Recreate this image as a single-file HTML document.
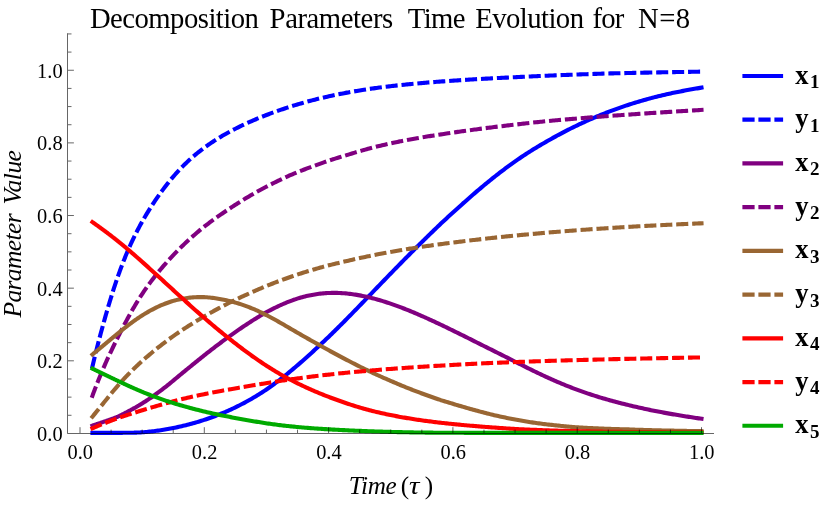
<!DOCTYPE html>
<html><head><meta charset="utf-8"><title>Decomposition Parameters</title>
<style>html,body{margin:0;padding:0;background:#fff;}svg{display:block;will-change:transform;transform:translateZ(0);}text{font-family:"Liberation Serif",serif;}</style></head><body>
<svg width="830" height="506" viewBox="0 0 830 506">
<rect width="830" height="506" fill="#fff"/>
<path d="M92.43,432.85 L92.85,432.85 L93.26,432.85 L93.68,432.86 L94.10,432.86 L94.52,432.86 L94.93,432.86 L95.35,432.86 L95.77,432.86 L96.18,432.86 L96.60,432.86 L97.02,432.86 L97.44,432.86 L97.85,432.86 L98.27,432.86 L98.69,432.86 L99.10,432.86 L99.52,432.86 L99.94,432.86 L100.36,432.86 L100.77,432.86 L101.19,432.86 L101.61,432.86 L102.02,432.86 L102.44,432.86 L102.86,432.86 L103.28,432.86 L103.69,432.86 L104.11,432.86 L104.53,432.86 L104.95,432.86 L105.36,432.86 L105.78,432.86 L106.20,432.86 L106.61,432.86 L107.03,432.86 L107.45,432.86 L107.87,432.86 L108.28,432.86 L108.70,432.86 L109.12,432.86 L109.53,432.85 L109.95,432.85 L110.37,432.85 L110.79,432.85 L111.20,432.85 L111.62,432.85 L112.04,432.85 L112.45,432.85 L112.87,432.85 L113.29,432.85 L113.71,432.85 L114.12,432.85 L114.54,432.85 L114.96,432.85 L115.37,432.85 L115.79,432.85 L116.21,432.85 L116.63,432.85 L117.04,432.84 L117.46,432.84 L117.88,432.84 L118.29,432.84 L118.71,432.84 L119.13,432.84 L119.55,432.84 L119.96,432.84 L120.38,432.84 L120.80,432.83 L121.21,432.83 L121.63,432.83 L122.05,432.83 L122.47,432.83 L122.88,432.82 L123.30,432.82 L123.72,432.82 L124.13,432.82 L124.55,432.81 L124.97,432.81 L125.39,432.81 L125.80,432.80 L126.22,432.80 L126.64,432.80 L127.05,432.79 L127.47,432.79 L127.89,432.79 L128.31,432.78 L128.72,432.78 L129.14,432.77 L129.56,432.76 L129.97,432.76 L130.39,432.75 L130.81,432.74 L131.23,432.74 L131.64,432.73 L132.06,432.72 L132.48,432.71 L132.90,432.70 L133.31,432.69 L133.73,432.68 L134.15,432.67 L134.56,432.66 L134.98,432.65 L135.40,432.63 L135.82,432.62 L136.23,432.61 L136.65,432.59 L137.07,432.57 L137.48,432.56 L137.90,432.54 L138.32,432.52 L138.74,432.50 L139.15,432.48 L139.57,432.46 L139.99,432.43 L140.40,432.41 L140.82,432.38 L141.24,432.36 L141.66,432.33 L142.07,432.30 L142.49,432.28 L143.89,432.17 L145.29,432.06 L146.69,431.94 L148.09,431.80 L149.50,431.66 L150.90,431.51 L152.30,431.35 L153.70,431.18 L155.10,431.00 L156.50,430.82 L157.90,430.63 L159.30,430.42 L160.70,430.22 L162.10,430.00 L163.51,429.78 L164.91,429.54 L166.31,429.30 L167.71,429.06 L169.11,428.80 L170.51,428.54 L171.91,428.27 L173.31,427.99 L174.71,427.71 L176.11,427.42 L177.52,427.12 L178.92,426.81 L180.32,426.50 L181.72,426.17 L183.12,425.84 L184.52,425.51 L185.92,425.16 L187.32,424.81 L188.72,424.44 L190.12,424.07 L191.53,423.69 L192.93,423.31 L194.33,422.91 L195.73,422.51 L197.13,422.10 L198.53,421.68 L199.93,421.25 L201.33,420.81 L202.73,420.37 L204.14,419.91 L205.54,419.45 L206.94,418.98 L208.34,418.50 L209.74,418.01 L211.14,417.51 L212.54,417.01 L213.94,416.49 L215.34,415.96 L216.74,415.43 L218.15,414.88 L219.55,414.33 L220.95,413.77 L222.35,413.19 L223.75,412.61 L225.15,412.01 L226.55,411.41 L227.95,410.79 L229.35,410.17 L230.75,409.53 L232.16,408.89 L233.56,408.23 L234.96,407.56 L236.36,406.88 L237.76,406.19 L239.16,405.49 L240.56,404.78 L241.96,404.05 L243.36,403.32 L244.77,402.57 L246.17,401.81 L247.57,401.04 L248.97,400.26 L250.37,399.47 L251.77,398.66 L253.17,397.84 L254.57,397.01 L255.97,396.17 L257.37,395.32 L258.78,394.45 L260.18,393.57 L261.58,392.68 L262.98,391.78 L264.38,390.86 L265.78,389.93 L267.18,388.99 L268.58,388.02 L269.98,387.04 L271.38,386.04 L272.79,385.03 L274.19,384.01 L275.59,382.97 L276.99,381.92 L278.39,380.86 L279.79,379.78 L281.19,378.70 L282.59,377.60 L283.99,376.49 L285.39,375.37 L286.80,374.24 L288.20,373.10 L289.60,371.94 L291.00,370.78 L292.40,369.61 L293.80,368.43 L295.20,367.25 L296.60,366.05 L298.00,364.85 L299.41,363.64 L300.81,362.42 L302.21,361.19 L303.61,359.96 L305.01,358.72 L306.41,357.47 L307.81,356.22 L309.21,354.96 L310.61,353.69 L312.01,352.42 L313.42,351.14 L314.82,349.86 L316.22,348.57 L317.62,347.27 L319.02,345.97 L320.42,344.66 L321.82,343.34 L323.22,342.02 L324.62,340.69 L326.02,339.35 L327.43,338.01 L328.83,336.66 L330.23,335.31 L331.63,333.95 L333.03,332.58 L334.43,331.21 L335.83,329.83 L337.23,328.44 L338.63,327.05 L340.03,325.66 L341.44,324.26 L342.84,322.85 L344.24,321.44 L345.64,320.03 L347.04,318.61 L348.44,317.18 L349.84,315.75 L351.24,314.32 L352.64,312.88 L354.05,311.44 L355.45,310.00 L356.85,308.55 L358.25,307.10 L359.65,305.64 L361.05,304.20 L362.45,302.75 L363.85,301.31 L365.25,299.86 L366.65,298.41 L368.06,296.96 L369.46,295.50 L370.86,294.05 L372.26,292.60 L373.66,291.14 L375.06,289.69 L376.46,288.24 L377.86,286.79 L379.26,285.34 L380.66,283.89 L382.07,282.44 L383.47,280.99 L384.87,279.54 L386.27,278.09 L387.67,276.65 L389.07,275.20 L390.47,273.76 L391.87,272.32 L393.27,270.88 L394.67,269.44 L396.08,268.00 L397.48,266.57 L398.88,265.14 L400.28,263.71 L401.68,262.28 L403.08,260.85 L404.48,259.43 L405.88,258.01 L407.28,256.59 L408.69,255.18 L410.09,253.77 L411.49,252.36 L412.89,250.96 L414.29,249.56 L415.69,248.16 L417.09,246.77 L418.49,245.38 L419.89,243.99 L421.29,242.61 L422.70,241.23 L424.10,239.85 L425.50,238.48 L426.90,237.11 L428.30,235.75 L429.70,234.38 L431.10,233.02 L432.50,231.67 L433.90,230.31 L435.30,228.96 L436.71,227.61 L438.11,226.27 L439.51,224.93 L440.91,223.59 L442.31,222.29 L443.71,220.99 L445.11,219.69 L446.51,218.40 L447.91,217.11 L449.32,215.83 L450.72,214.54 L452.12,213.26 L453.52,211.99 L454.92,210.71 L456.32,209.44 L457.72,208.18 L459.12,206.92 L460.52,205.66 L461.92,204.40 L463.33,203.15 L464.73,201.91 L466.13,200.67 L467.53,199.43 L468.93,198.20 L470.33,196.97 L471.73,195.75 L473.13,194.54 L474.53,193.33 L475.93,192.13 L477.34,190.93 L478.74,189.74 L480.14,188.56 L481.54,187.38 L482.94,186.22 L484.34,185.05 L485.74,183.90 L487.14,182.75 L488.54,181.61 L489.94,180.47 L491.35,179.34 L492.75,178.22 L494.15,177.11 L495.55,176.00 L496.95,174.90 L498.35,173.81 L499.75,172.73 L501.15,171.65 L502.55,170.58 L503.96,169.52 L505.36,168.47 L506.76,167.42 L508.16,166.39 L509.56,165.37 L510.96,164.35 L512.36,163.35 L513.76,162.35 L515.16,161.37 L516.56,160.39 L517.97,159.42 L519.37,158.46 L520.77,157.51 L522.17,156.57 L523.57,155.64 L524.97,154.72 L526.37,153.81 L527.77,152.90 L529.17,152.00 L530.57,151.12 L531.98,150.24 L533.38,149.36 L534.78,148.50 L536.18,147.64 L537.58,146.80 L538.98,145.96 L540.38,145.12 L541.78,144.30 L543.18,143.48 L544.58,142.67 L545.99,141.87 L547.39,141.06 L548.79,140.26 L550.19,139.46 L551.59,138.67 L552.99,137.89 L554.39,137.11 L555.79,136.34 L557.19,135.57 L558.60,134.82 L560.00,134.07 L561.40,133.32 L562.80,132.58 L564.20,131.85 L565.60,131.13 L567.00,130.41 L568.40,129.70 L569.80,128.99 L571.20,128.29 L572.61,127.60 L574.01,126.91 L575.41,126.23 L576.81,125.55 L578.21,124.88 L579.61,124.22 L581.01,123.57 L582.41,122.91 L583.81,122.27 L585.21,121.63 L586.62,121.00 L588.02,120.37 L589.42,119.75 L590.82,119.14 L592.22,118.53 L593.62,117.92 L595.02,117.33 L596.42,116.74 L597.82,116.15 L599.22,115.57 L600.63,115.00 L602.03,114.43 L603.43,113.87 L604.83,113.32 L606.23,112.77 L607.63,112.23 L609.03,111.69 L610.43,111.16 L611.83,110.63 L613.24,110.11 L614.64,109.60 L616.04,109.09 L617.44,108.58 L618.84,108.09 L620.24,107.60 L621.64,107.11 L623.04,106.63 L624.44,106.15 L625.84,105.68 L627.25,105.22 L628.65,104.76 L630.05,104.31 L631.45,103.86 L632.85,103.41 L634.25,102.98 L635.65,102.54 L637.05,102.12 L638.45,101.69 L639.85,101.28 L641.26,100.87 L642.66,100.46 L644.06,100.06 L645.46,99.66 L646.86,99.27 L648.26,98.88 L649.66,98.50 L651.06,98.13 L652.46,97.76 L653.87,97.39 L655.27,97.03 L656.67,96.67 L658.07,96.32 L659.47,95.98 L660.87,95.64 L662.27,95.30 L663.67,94.97 L665.07,94.64 L666.47,94.32 L667.88,94.01 L669.28,93.70 L670.68,93.39 L672.08,93.09 L673.48,92.79 L674.88,92.50 L676.28,92.22 L677.68,91.94 L679.08,91.66 L680.48,91.39 L681.89,91.12 L683.29,90.86 L684.69,90.59 L686.09,90.34 L687.49,90.08 L688.89,89.83 L690.29,89.58 L691.69,89.33 L693.09,89.09 L694.49,88.84 L695.90,88.60 L697.30,88.36 L698.70,88.12 L700.10,87.88 L701.50,87.64" fill="none" stroke="#0000ff" stroke-width="4.1" stroke-linejoin="round" stroke-linecap="square"/>
<path d="M92.43,366.56 L92.85,364.77 L93.26,363.01 L93.68,361.27 L94.10,359.54 L94.52,357.82 L94.93,356.12 L95.35,354.43 L95.77,352.75 L96.18,351.08 L96.60,349.42 L97.02,347.77 L97.44,346.13 L97.85,344.49 L98.27,342.87 L98.69,341.26 L99.10,339.65 L99.52,338.05 L99.94,336.47 L100.36,334.89 L100.77,333.32 L101.19,331.76 L101.61,330.21 L102.02,328.66 L102.44,327.13 L102.86,325.60 L103.28,324.08 L103.69,322.58 L104.11,321.08 L104.53,319.59 L104.95,318.10 L105.36,316.63 L105.78,315.16 L106.20,313.71 L106.61,312.26 L107.03,310.82 L107.45,309.39 L107.87,307.96 L108.28,306.55 L108.70,305.14 L109.12,303.75 L109.53,302.36 L109.95,300.98 L110.37,299.61 L110.79,298.25 L111.20,296.89 L111.62,295.55 L112.04,294.21 L112.45,292.89 L112.87,291.57 L113.29,290.27 L113.71,288.97 L114.12,287.68 L114.54,286.40 L114.96,285.13 L115.37,283.88 L115.79,282.63 L116.21,281.39 L116.63,280.16 L117.04,278.94 L117.46,277.73 L117.88,276.53 L118.29,275.34 L118.71,274.16 L119.13,272.99 L119.55,271.83 L119.96,270.68 L120.38,269.54 L120.80,268.41 L121.21,267.28 L121.63,266.17 L122.05,265.07 L122.47,263.98 L122.88,262.90 L123.30,261.82 L123.72,260.76 L124.13,259.70 L124.55,258.66 L124.97,257.62 L125.39,256.59 L125.80,255.57 L126.22,254.56 L126.64,253.56 L127.05,252.57 L127.47,251.58 L127.89,250.61 L128.31,249.64 L128.72,248.68 L129.14,247.73 L129.56,246.79 L129.97,245.85 L130.39,244.93 L130.81,244.01 L131.23,243.10 L131.64,242.19 L132.06,241.30 L132.48,240.41 L132.90,239.53 L133.31,238.65 L133.73,237.79 L134.15,236.93 L134.56,236.08 L134.98,235.23 L135.40,234.39 L135.82,233.56 L136.23,232.74 L136.65,231.92 L137.07,231.11 L137.48,230.30 L137.90,229.50 L138.32,228.71 L138.74,227.92 L139.15,227.14 L139.57,226.36 L139.99,225.59 L140.40,224.82 L140.82,224.06 L141.24,223.31 L141.66,222.56 L142.07,221.82 L142.49,221.08 L143.89,218.63 L145.29,216.23 L146.69,213.89 L148.09,211.59 L149.50,209.34 L150.90,207.13 L152.30,204.95 L153.70,202.82 L155.10,200.73 L156.50,198.67 L157.90,196.64 L159.30,194.65 L160.70,192.70 L162.10,190.77 L163.51,188.88 L164.91,187.03 L166.31,185.21 L167.71,183.42 L169.11,181.66 L170.51,179.94 L171.91,178.25 L173.31,176.60 L174.71,174.98 L176.11,173.40 L177.52,171.85 L178.92,170.33 L180.32,168.84 L181.72,167.39 L183.12,165.96 L184.52,164.57 L185.92,163.21 L187.32,161.87 L188.72,160.56 L190.12,159.28 L191.53,158.02 L192.93,156.80 L194.33,155.59 L195.73,154.41 L197.13,153.26 L198.53,152.13 L199.93,151.02 L201.33,149.93 L202.73,148.86 L204.14,147.82 L205.54,146.79 L206.94,145.78 L208.34,144.80 L209.74,143.83 L211.14,142.88 L212.54,141.94 L213.94,141.03 L215.34,140.12 L216.74,139.24 L218.15,138.37 L219.55,137.51 L220.95,136.67 L222.35,135.85 L223.75,135.03 L225.15,134.23 L226.55,133.44 L227.95,132.67 L229.35,131.90 L230.75,131.15 L232.16,130.41 L233.56,129.68 L234.96,128.96 L236.36,128.25 L237.76,127.55 L239.16,126.86 L240.56,126.18 L241.96,125.50 L243.36,124.84 L244.77,124.19 L246.17,123.54 L247.57,122.90 L248.97,122.27 L250.37,121.65 L251.77,121.04 L253.17,120.43 L254.57,119.83 L255.97,119.24 L257.37,118.65 L258.78,118.07 L260.18,117.50 L261.58,116.94 L262.98,116.38 L264.38,115.83 L265.78,115.28 L267.18,114.74 L268.58,114.21 L269.98,113.68 L271.38,113.16 L272.79,112.65 L274.19,112.14 L275.59,111.63 L276.99,111.13 L278.39,110.64 L279.79,110.15 L281.19,109.67 L282.59,109.19 L283.99,108.72 L285.39,108.25 L286.80,107.79 L288.20,107.34 L289.60,106.89 L291.00,106.44 L292.40,106.00 L293.80,105.57 L295.20,105.14 L296.60,104.72 L298.00,104.30 L299.41,103.89 L300.81,103.48 L302.21,103.07 L303.61,102.67 L305.01,102.28 L306.41,101.89 L307.81,101.51 L309.21,101.13 L310.61,100.76 L312.01,100.39 L313.42,100.02 L314.82,99.66 L316.22,99.31 L317.62,98.96 L319.02,98.61 L320.42,98.27 L321.82,97.93 L323.22,97.60 L324.62,97.28 L326.02,96.95 L327.43,96.63 L328.83,96.32 L330.23,96.01 L331.63,95.71 L333.03,95.40 L334.43,95.11 L335.83,94.82 L337.23,94.53 L338.63,94.24 L340.03,93.96 L341.44,93.69 L342.84,93.41 L344.24,93.15 L345.64,92.88 L347.04,92.62 L348.44,92.37 L349.84,92.11 L351.24,91.86 L352.64,91.62 L354.05,91.38 L355.45,91.14 L356.85,90.90 L358.25,90.67 L359.65,90.45 L361.05,90.22 L362.45,90.00 L363.85,89.78 L365.25,89.57 L366.65,89.36 L368.06,89.15 L369.46,88.94 L370.86,88.74 L372.26,88.54 L373.66,88.35 L375.06,88.15 L376.46,87.96 L377.86,87.78 L379.26,87.59 L380.66,87.41 L382.07,87.23 L383.47,87.05 L384.87,86.88 L386.27,86.71 L387.67,86.54 L389.07,86.37 L390.47,86.20 L391.87,86.04 L393.27,85.88 L394.67,85.72 L396.08,85.57 L397.48,85.41 L398.88,85.26 L400.28,85.11 L401.68,84.97 L403.08,84.82 L404.48,84.68 L405.88,84.53 L407.28,84.39 L408.69,84.26 L410.09,84.12 L411.49,83.99 L412.89,83.85 L414.29,83.72 L415.69,83.59 L417.09,83.46 L418.49,83.34 L419.89,83.21 L421.29,83.09 L422.70,82.97 L424.10,82.85 L425.50,82.73 L426.90,82.61 L428.30,82.50 L429.70,82.38 L431.10,82.27 L432.50,82.16 L433.90,82.05 L435.30,81.94 L436.71,81.83 L438.11,81.72 L439.51,81.62 L440.91,81.51 L442.31,81.41 L443.71,81.31 L445.11,81.20 L446.51,81.10 L447.91,81.00 L449.32,80.91 L450.72,80.81 L452.12,80.71 L453.52,80.62 L454.92,80.52 L456.32,80.43 L457.72,80.34 L459.12,80.25 L460.52,80.15 L461.92,80.07 L463.33,79.98 L464.73,79.89 L466.13,79.80 L467.53,79.71 L468.93,79.63 L470.33,79.54 L471.73,79.46 L473.13,79.38 L474.53,79.29 L475.93,79.21 L477.34,79.13 L478.74,79.05 L480.14,78.97 L481.54,78.89 L482.94,78.82 L484.34,78.74 L485.74,78.66 L487.14,78.59 L488.54,78.51 L489.94,78.44 L491.35,78.36 L492.75,78.29 L494.15,78.22 L495.55,78.14 L496.95,78.07 L498.35,78.00 L499.75,77.93 L501.15,77.86 L502.55,77.79 L503.96,77.72 L505.36,77.66 L506.76,77.59 L508.16,77.52 L509.56,77.46 L510.96,77.39 L512.36,77.33 L513.76,77.26 L515.16,77.20 L516.56,77.13 L517.97,77.06 L519.37,76.99 L520.77,76.92 L522.17,76.85 L523.57,76.78 L524.97,76.71 L526.37,76.64 L527.77,76.58 L529.17,76.51 L530.57,76.44 L531.98,76.38 L533.38,76.31 L534.78,76.25 L536.18,76.18 L537.58,76.12 L538.98,76.05 L540.38,75.99 L541.78,75.93 L543.18,75.87 L544.58,75.81 L545.99,75.74 L547.39,75.68 L548.79,75.62 L550.19,75.56 L551.59,75.51 L552.99,75.45 L554.39,75.39 L555.79,75.33 L557.19,75.27 L558.60,75.22 L560.00,75.16 L561.40,75.11 L562.80,75.05 L564.20,75.00 L565.60,74.94 L567.00,74.89 L568.40,74.83 L569.80,74.78 L571.20,74.73 L572.61,74.67 L574.01,74.62 L575.41,74.57 L576.81,74.52 L578.21,74.47 L579.61,74.42 L581.01,74.37 L582.41,74.32 L583.81,74.27 L585.21,74.22 L586.62,74.17 L588.02,74.12 L589.42,74.07 L590.82,74.03 L592.22,73.98 L593.62,73.93 L595.02,73.89 L596.42,73.84 L597.82,73.79 L599.22,73.75 L600.63,73.70 L602.03,73.66 L603.43,73.61 L604.83,73.57 L606.23,73.53 L607.63,73.48 L609.03,73.44 L610.43,73.41 L611.83,73.37 L613.24,73.34 L614.64,73.31 L616.04,73.27 L617.44,73.24 L618.84,73.21 L620.24,73.18 L621.64,73.14 L623.04,73.11 L624.44,73.08 L625.84,73.05 L627.25,73.02 L628.65,72.99 L630.05,72.96 L631.45,72.93 L632.85,72.90 L634.25,72.87 L635.65,72.84 L637.05,72.81 L638.45,72.78 L639.85,72.75 L641.26,72.72 L642.66,72.69 L644.06,72.67 L645.46,72.64 L646.86,72.61 L648.26,72.58 L649.66,72.56 L651.06,72.53 L652.46,72.50 L653.87,72.47 L655.27,72.45 L656.67,72.42 L658.07,72.40 L659.47,72.37 L660.87,72.34 L662.27,72.32 L663.67,72.29 L665.07,72.27 L666.47,72.24 L667.88,72.22 L669.28,72.19 L670.68,72.17 L672.08,72.14 L673.48,72.12 L674.88,72.09 L676.28,72.07 L677.68,72.04 L679.08,72.02 L680.48,71.99 L681.89,71.97 L683.29,71.95 L684.69,71.92 L686.09,71.90 L687.49,71.87 L688.89,71.85 L690.29,71.83 L691.69,71.80 L693.09,71.78 L694.49,71.76 L695.90,71.73 L697.30,71.71 L698.70,71.69 L700.10,71.66 L701.50,71.64" fill="none" stroke="#0000ff" stroke-width="4.1" stroke-dasharray="7.970 7.970" stroke-linejoin="round" stroke-linecap="square"/>
<path d="M92.43,425.62 L92.85,425.45 L93.26,425.31 L93.68,425.18 L94.10,425.04 L94.52,424.90 L94.93,424.76 L95.35,424.62 L95.77,424.48 L96.18,424.34 L96.60,424.20 L97.02,424.06 L97.44,423.92 L97.85,423.78 L98.27,423.64 L98.69,423.50 L99.10,423.36 L99.52,423.22 L99.94,423.08 L100.36,422.94 L100.77,422.79 L101.19,422.65 L101.61,422.51 L102.02,422.37 L102.44,422.23 L102.86,422.09 L103.28,421.94 L103.69,421.80 L104.11,421.66 L104.53,421.51 L104.95,421.37 L105.36,421.23 L105.78,421.08 L106.20,420.94 L106.61,420.79 L107.03,420.65 L107.45,420.50 L107.87,420.36 L108.28,420.21 L108.70,420.06 L109.12,419.91 L109.53,419.77 L109.95,419.62 L110.37,419.47 L110.79,419.32 L111.20,419.17 L111.62,419.02 L112.04,418.87 L112.45,418.71 L112.87,418.56 L113.29,418.41 L113.71,418.26 L114.12,418.10 L114.54,417.95 L114.96,417.79 L115.37,417.63 L115.79,417.48 L116.21,417.32 L116.63,417.16 L117.04,417.00 L117.46,416.84 L117.88,416.66 L118.29,416.45 L118.71,416.25 L119.13,416.05 L119.55,415.84 L119.96,415.64 L120.38,415.43 L120.80,415.22 L121.21,415.02 L121.63,414.81 L122.05,414.60 L122.47,414.39 L122.88,414.18 L123.30,413.96 L123.72,413.75 L124.13,413.54 L124.55,413.32 L124.97,413.11 L125.39,412.89 L125.80,412.68 L126.22,412.46 L126.64,412.24 L127.05,412.02 L127.47,411.80 L127.89,411.58 L128.31,411.36 L128.72,411.14 L129.14,410.91 L129.56,410.69 L129.97,410.46 L130.39,410.24 L130.81,410.01 L131.23,409.78 L131.64,409.55 L132.06,409.32 L132.48,409.09 L132.90,408.86 L133.31,408.62 L133.73,408.39 L134.15,408.16 L134.56,407.92 L134.98,407.68 L135.40,407.44 L135.82,407.21 L136.23,406.97 L136.65,406.72 L137.07,406.48 L137.48,406.24 L137.90,406.00 L138.32,405.75 L138.74,405.51 L139.15,405.26 L139.57,405.01 L139.99,404.76 L140.40,404.51 L140.82,404.26 L141.24,404.01 L141.66,403.75 L142.07,403.50 L142.49,403.24 L143.89,402.35 L145.29,401.44 L146.69,400.52 L148.09,399.59 L149.50,398.65 L150.90,397.69 L152.30,396.72 L153.70,395.73 L155.10,394.73 L156.50,393.72 L157.90,392.70 L159.30,391.66 L160.70,390.61 L162.10,389.55 L163.51,388.47 L164.91,387.38 L166.31,386.28 L167.71,385.16 L169.11,384.04 L170.51,382.90 L171.91,381.75 L173.31,380.60 L174.71,379.43 L176.11,378.26 L177.52,377.08 L178.92,375.90 L180.32,374.73 L181.72,373.59 L183.12,372.45 L184.52,371.31 L185.92,370.17 L187.32,369.03 L188.72,367.88 L190.12,366.74 L191.53,365.60 L192.93,364.46 L194.33,363.32 L195.73,362.18 L197.13,361.04 L198.53,359.91 L199.93,358.78 L201.33,357.66 L202.73,356.54 L204.14,355.42 L205.54,354.31 L206.94,353.21 L208.34,352.11 L209.74,351.02 L211.14,349.93 L212.54,348.85 L213.94,347.78 L215.34,346.71 L216.74,345.65 L218.15,344.59 L219.55,343.54 L220.95,342.49 L222.35,341.45 L223.75,340.41 L225.15,339.39 L226.55,338.36 L227.95,337.35 L229.35,336.34 L230.75,335.33 L232.16,334.33 L233.56,333.34 L234.96,332.35 L236.36,331.37 L237.76,330.39 L239.16,329.42 L240.56,328.46 L241.96,327.51 L243.36,326.56 L244.77,325.62 L246.17,324.68 L247.57,323.76 L248.97,322.84 L250.37,321.93 L251.77,321.03 L253.17,320.14 L254.57,319.26 L255.97,318.39 L257.37,317.53 L258.78,316.67 L260.18,315.83 L261.58,315.00 L262.98,314.18 L264.38,313.37 L265.78,312.57 L267.18,311.79 L268.58,311.05 L269.98,310.32 L271.38,309.60 L272.79,308.89 L274.19,308.19 L275.59,307.51 L276.99,306.83 L278.39,306.17 L279.79,305.51 L281.19,304.88 L282.59,304.25 L283.99,303.64 L285.39,303.05 L286.80,302.47 L288.20,301.90 L289.60,301.35 L291.00,300.82 L292.40,300.30 L293.80,299.80 L295.20,299.32 L296.60,298.86 L298.00,298.41 L299.41,297.98 L300.81,297.57 L302.21,297.17 L303.61,296.80 L305.01,296.44 L306.41,296.10 L307.81,295.78 L309.21,295.47 L310.61,295.18 L312.01,294.92 L313.42,294.66 L314.82,294.43 L316.22,294.21 L317.62,294.01 L319.02,293.83 L320.42,293.66 L321.82,293.51 L323.22,293.38 L324.62,293.25 L326.02,293.15 L327.43,293.06 L328.83,292.99 L330.23,292.94 L331.63,292.90 L333.03,292.88 L334.43,292.88 L335.83,292.89 L337.23,292.92 L338.63,292.96 L340.03,293.02 L341.44,293.10 L342.84,293.19 L344.24,293.29 L345.64,293.41 L347.04,293.55 L348.44,293.70 L349.84,293.86 L351.24,294.03 L352.64,294.22 L354.05,294.42 L355.45,294.64 L356.85,294.87 L358.25,295.11 L359.65,295.36 L361.05,295.63 L362.45,295.90 L363.85,296.19 L365.25,296.49 L366.65,296.80 L368.06,297.12 L369.46,297.46 L370.86,297.80 L372.26,298.15 L373.66,298.52 L375.06,298.89 L376.46,299.27 L377.86,299.67 L379.26,300.07 L380.66,300.48 L382.07,300.90 L383.47,301.34 L384.87,301.77 L386.27,302.22 L387.67,302.68 L389.07,303.14 L390.47,303.62 L391.87,304.10 L393.27,304.59 L394.67,305.08 L396.08,305.59 L397.48,306.10 L398.88,306.62 L400.28,307.14 L401.68,307.68 L403.08,308.21 L404.48,308.76 L405.88,309.31 L407.28,309.87 L408.69,310.43 L410.09,311.01 L411.49,311.58 L412.89,312.16 L414.29,312.75 L415.69,313.34 L417.09,313.94 L418.49,314.54 L419.89,315.15 L421.29,315.76 L422.70,316.38 L424.10,317.00 L425.50,317.63 L426.90,318.25 L428.30,318.89 L429.70,319.53 L431.10,320.17 L432.50,320.81 L433.90,321.46 L435.30,322.11 L436.71,322.77 L438.11,323.43 L439.51,324.09 L440.91,324.76 L442.31,325.42 L443.71,326.10 L445.11,326.77 L446.51,327.44 L447.91,328.12 L449.32,328.80 L450.72,329.48 L452.12,330.17 L453.52,330.85 L454.92,331.54 L456.32,332.23 L457.72,332.92 L459.12,333.61 L460.52,334.30 L461.92,334.99 L463.33,335.69 L464.73,336.39 L466.13,337.09 L467.53,337.79 L468.93,338.49 L470.33,339.19 L471.73,339.89 L473.13,340.60 L474.53,341.30 L475.93,342.00 L477.34,342.71 L478.74,343.41 L480.14,344.11 L481.54,344.81 L482.94,345.51 L484.34,346.21 L485.74,346.91 L487.14,347.61 L488.54,348.31 L489.94,349.01 L491.35,349.71 L492.75,350.41 L494.15,351.11 L495.55,351.81 L496.95,352.51 L498.35,353.22 L499.75,353.92 L501.15,354.62 L502.55,355.33 L503.96,356.03 L505.36,356.74 L506.76,357.45 L508.16,358.16 L509.56,358.87 L510.96,359.58 L512.36,360.29 L513.76,361.00 L515.16,361.71 L516.56,362.42 L517.97,363.13 L519.37,363.84 L520.77,364.54 L522.17,365.25 L523.57,365.95 L524.97,366.65 L526.37,367.35 L527.77,368.05 L529.17,368.74 L530.57,369.43 L531.98,370.12 L533.38,370.81 L534.78,371.49 L536.18,372.16 L537.58,372.84 L538.98,373.51 L540.38,374.17 L541.78,374.84 L543.18,375.49 L544.58,376.15 L545.99,376.80 L547.39,377.44 L548.79,378.08 L550.19,378.71 L551.59,379.34 L552.99,379.96 L554.39,380.57 L555.79,381.18 L557.19,381.79 L558.60,382.39 L560.00,382.98 L561.40,383.57 L562.80,384.15 L564.20,384.72 L565.60,385.29 L567.00,385.85 L568.40,386.41 L569.80,386.96 L571.20,387.51 L572.61,388.05 L574.01,388.58 L575.41,389.10 L576.81,389.62 L578.21,390.14 L579.61,390.65 L581.01,391.15 L582.41,391.65 L583.81,392.15 L585.21,392.63 L586.62,393.11 L588.02,393.58 L589.42,394.05 L590.82,394.51 L592.22,394.97 L593.62,395.42 L595.02,395.87 L596.42,396.31 L597.82,396.74 L599.22,397.17 L600.63,397.59 L602.03,398.01 L603.43,398.42 L604.83,398.83 L606.23,399.24 L607.63,399.63 L609.03,400.03 L610.43,400.42 L611.83,400.80 L613.24,401.18 L614.64,401.56 L616.04,401.93 L617.44,402.30 L618.84,402.67 L620.24,403.03 L621.64,403.39 L623.04,403.74 L624.44,404.09 L625.84,404.44 L627.25,404.79 L628.65,405.13 L630.05,405.47 L631.45,405.80 L632.85,406.13 L634.25,406.46 L635.65,406.79 L637.05,407.11 L638.45,407.43 L639.85,407.75 L641.26,408.06 L642.66,408.37 L644.06,408.68 L645.46,408.98 L646.86,409.28 L648.26,409.58 L649.66,409.87 L651.06,410.16 L652.46,410.45 L653.87,410.73 L655.27,411.01 L656.67,411.29 L658.07,411.56 L659.47,411.83 L660.87,412.09 L662.27,412.36 L663.67,412.62 L665.07,412.87 L666.47,413.13 L667.88,413.38 L669.28,413.63 L670.68,413.87 L672.08,414.12 L673.48,414.36 L674.88,414.59 L676.28,414.83 L677.68,415.06 L679.08,415.29 L680.48,415.52 L681.89,415.75 L683.29,415.97 L684.69,416.20 L686.09,416.42 L687.49,416.64 L688.89,416.86 L690.29,417.07 L691.69,417.29 L693.09,417.51 L694.49,417.72 L695.90,417.93 L697.30,418.15 L698.70,418.36 L700.10,418.57 L701.50,418.78" fill="none" stroke="#800080" stroke-width="4.1" stroke-linejoin="round" stroke-linecap="square"/>
<path d="M92.43,395.84 L92.85,394.66 L93.26,393.52 L93.68,392.40 L94.10,391.28 L94.52,390.18 L94.93,389.08 L95.35,388.00 L95.77,386.92 L96.18,385.85 L96.60,384.79 L97.02,383.74 L97.44,382.69 L97.85,381.64 L98.27,380.60 L98.69,379.56 L99.10,378.53 L99.52,377.50 L99.94,376.48 L100.36,375.46 L100.77,374.44 L101.19,373.43 L101.61,372.43 L102.02,371.43 L102.44,370.44 L102.86,369.45 L103.28,368.47 L103.69,367.49 L104.11,366.52 L104.53,365.56 L104.95,364.61 L105.36,363.66 L105.78,362.72 L106.20,361.78 L106.61,360.85 L107.03,359.93 L107.45,359.01 L107.87,358.10 L108.28,357.20 L108.70,356.30 L109.12,355.41 L109.53,354.52 L109.95,353.64 L110.37,352.77 L110.79,351.90 L111.20,351.04 L111.62,350.16 L112.04,349.27 L112.45,348.38 L112.87,347.50 L113.29,346.62 L113.71,345.75 L114.12,344.89 L114.54,344.03 L114.96,343.17 L115.37,342.31 L115.79,341.46 L116.21,340.62 L116.63,339.78 L117.04,338.94 L117.46,338.10 L117.88,337.27 L118.29,336.44 L118.71,335.62 L119.13,334.79 L119.55,333.97 L119.96,333.15 L120.38,332.34 L120.80,331.52 L121.21,330.71 L121.63,329.90 L122.05,329.09 L122.47,328.28 L122.88,327.48 L123.30,326.68 L123.72,325.88 L124.13,325.08 L124.55,324.29 L124.97,323.50 L125.39,322.71 L125.80,321.93 L126.22,321.14 L126.64,320.36 L127.05,319.59 L127.47,318.81 L127.89,318.04 L128.31,317.28 L128.72,316.51 L129.14,315.75 L129.56,315.00 L129.97,314.24 L130.39,313.49 L130.81,312.75 L131.23,312.00 L131.64,311.27 L132.06,310.53 L132.48,309.80 L132.90,309.07 L133.31,308.35 L133.73,307.63 L134.15,306.92 L134.56,306.21 L134.98,305.50 L135.40,304.80 L135.82,304.10 L136.23,303.41 L136.65,302.72 L137.07,302.04 L137.48,301.36 L137.90,300.68 L138.32,300.01 L138.74,299.34 L139.15,298.68 L139.57,298.02 L139.99,297.37 L140.40,296.71 L140.82,296.07 L141.24,295.43 L141.66,294.79 L142.07,294.16 L142.49,293.53 L143.89,291.44 L145.29,289.40 L146.69,287.40 L148.09,285.44 L149.50,283.52 L150.90,281.63 L152.30,279.77 L153.70,277.94 L155.10,276.15 L156.50,274.38 L157.90,272.64 L159.30,270.92 L160.70,269.23 L162.10,267.57 L163.51,265.93 L164.91,264.31 L166.31,262.72 L167.71,261.15 L169.11,259.60 L170.51,258.07 L171.91,256.57 L173.31,255.09 L174.71,253.62 L176.11,252.16 L177.52,250.73 L178.92,249.32 L180.32,247.93 L181.72,246.55 L183.12,245.20 L184.52,243.86 L185.92,242.54 L187.32,241.23 L188.72,239.95 L190.12,238.67 L191.53,237.42 L192.93,236.18 L194.33,234.95 L195.73,233.74 L197.13,232.54 L198.53,231.35 L199.93,230.18 L201.33,229.02 L202.73,227.87 L204.14,226.74 L205.54,225.64 L206.94,224.57 L208.34,223.51 L209.74,222.46 L211.14,221.42 L212.54,220.39 L213.94,219.37 L215.34,218.36 L216.74,217.36 L218.15,216.37 L219.55,215.39 L220.95,214.42 L222.35,213.45 L223.75,212.49 L225.15,211.54 L226.55,210.60 L227.95,209.67 L229.35,208.74 L230.75,207.81 L232.16,206.90 L233.56,205.99 L234.96,205.09 L236.36,204.19 L237.76,203.30 L239.16,202.42 L240.56,201.54 L241.96,200.66 L243.36,199.80 L244.77,198.94 L246.17,198.08 L247.57,197.24 L248.97,196.39 L250.37,195.56 L251.77,194.73 L253.17,193.91 L254.57,193.09 L255.97,192.31 L257.37,191.54 L258.78,190.78 L260.18,190.02 L261.58,189.26 L262.98,188.52 L264.38,187.78 L265.78,187.04 L267.18,186.31 L268.58,185.59 L269.98,184.88 L271.38,184.17 L272.79,183.46 L274.19,182.77 L275.59,182.08 L276.99,181.39 L278.39,180.71 L279.79,180.04 L281.19,179.37 L282.59,178.71 L283.99,178.06 L285.39,177.41 L286.80,176.76 L288.20,176.12 L289.60,175.49 L291.00,174.86 L292.40,174.26 L293.80,173.68 L295.20,173.11 L296.60,172.54 L298.00,171.98 L299.41,171.42 L300.81,170.87 L302.21,170.32 L303.61,169.78 L305.01,169.24 L306.41,168.70 L307.81,168.17 L309.21,167.65 L310.61,167.13 L312.01,166.62 L313.42,166.11 L314.82,165.61 L316.22,165.11 L317.62,164.60 L319.02,164.09 L320.42,163.58 L321.82,163.08 L323.22,162.59 L324.62,162.10 L326.02,161.61 L327.43,161.14 L328.83,160.66 L330.23,160.20 L331.63,159.74 L333.03,159.28 L334.43,158.83 L335.83,158.39 L337.23,157.95 L338.63,157.52 L340.03,157.09 L341.44,156.67 L342.84,156.25 L344.24,155.84 L345.64,155.44 L347.04,155.04 L348.44,154.62 L349.84,154.17 L351.24,153.73 L352.64,153.29 L354.05,152.86 L355.45,152.44 L356.85,152.02 L358.25,151.60 L359.65,151.19 L361.05,150.79 L362.45,150.39 L363.85,150.00 L365.25,149.61 L366.65,149.22 L368.06,148.84 L369.46,148.47 L370.86,148.10 L372.26,147.74 L373.66,147.38 L375.06,147.02 L376.46,146.67 L377.86,146.32 L379.26,145.98 L380.66,145.65 L382.07,145.31 L383.47,144.98 L384.87,144.66 L386.27,144.34 L387.67,144.02 L389.07,143.71 L390.47,143.40 L391.87,143.10 L393.27,142.80 L394.67,142.50 L396.08,142.21 L397.48,141.92 L398.88,141.63 L400.28,141.35 L401.68,141.07 L403.08,140.80 L404.48,140.52 L405.88,140.26 L407.28,139.99 L408.69,139.73 L410.09,139.47 L411.49,139.21 L412.89,138.96 L414.29,138.71 L415.69,138.46 L417.09,138.21 L418.49,137.97 L419.89,137.73 L421.29,137.49 L422.70,137.26 L424.10,137.02 L425.50,136.79 L426.90,136.57 L428.30,136.34 L429.70,136.12 L431.10,135.89 L432.50,135.68 L433.90,135.46 L435.30,135.24 L436.71,135.03 L438.11,134.82 L439.51,134.61 L440.91,134.40 L442.31,134.18 L443.71,133.97 L445.11,133.75 L446.51,133.54 L447.91,133.33 L449.32,133.12 L450.72,132.92 L452.12,132.71 L453.52,132.50 L454.92,132.30 L456.32,132.10 L457.72,131.90 L459.12,131.70 L460.52,131.50 L461.92,131.31 L463.33,131.11 L464.73,130.92 L466.13,130.72 L467.53,130.53 L468.93,130.34 L470.33,130.15 L471.73,129.96 L473.13,129.78 L474.53,129.59 L475.93,129.41 L477.34,129.22 L478.74,129.04 L480.14,128.86 L481.54,128.67 L482.94,128.49 L484.34,128.32 L485.74,128.14 L487.14,127.96 L488.54,127.78 L489.94,127.61 L491.35,127.43 L492.75,127.26 L494.15,127.08 L495.55,126.91 L496.95,126.74 L498.35,126.57 L499.75,126.40 L501.15,126.23 L502.55,126.06 L503.96,125.90 L505.36,125.73 L506.76,125.56 L508.16,125.40 L509.56,125.24 L510.96,125.07 L512.36,124.91 L513.76,124.75 L515.16,124.59 L516.56,124.43 L517.97,124.27 L519.37,124.11 L520.77,123.95 L522.17,123.79 L523.57,123.64 L524.97,123.48 L526.37,123.33 L527.77,123.17 L529.17,123.02 L530.57,122.87 L531.98,122.71 L533.38,122.56 L534.78,122.41 L536.18,122.26 L537.58,122.11 L538.98,121.96 L540.38,121.82 L541.78,121.67 L543.18,121.52 L544.58,121.38 L545.99,121.23 L547.39,121.09 L548.79,120.97 L550.19,120.84 L551.59,120.71 L552.99,120.58 L554.39,120.46 L555.79,120.33 L557.19,120.20 L558.60,120.08 L560.00,119.96 L561.40,119.83 L562.80,119.71 L564.20,119.59 L565.60,119.47 L567.00,119.35 L568.40,119.23 L569.80,119.11 L571.20,118.99 L572.61,118.87 L574.01,118.75 L575.41,118.63 L576.81,118.52 L578.21,118.40 L579.61,118.28 L581.01,118.17 L582.41,118.06 L583.81,117.94 L585.21,117.83 L586.62,117.72 L588.02,117.60 L589.42,117.49 L590.82,117.38 L592.22,117.27 L593.62,117.16 L595.02,117.05 L596.42,116.94 L597.82,116.83 L599.22,116.73 L600.63,116.62 L602.03,116.51 L603.43,116.41 L604.83,116.30 L606.23,116.20 L607.63,116.09 L609.03,115.99 L610.43,115.88 L611.83,115.78 L613.24,115.68 L614.64,115.58 L616.04,115.47 L617.44,115.37 L618.84,115.27 L620.24,115.17 L621.64,115.07 L623.04,114.97 L624.44,114.87 L625.84,114.77 L627.25,114.68 L628.65,114.58 L630.05,114.48 L631.45,114.38 L632.85,114.29 L634.25,114.19 L635.65,114.09 L637.05,114.00 L638.45,113.90 L639.85,113.81 L641.26,113.72 L642.66,113.62 L644.06,113.53 L645.46,113.43 L646.86,113.34 L648.26,113.25 L649.66,113.16 L651.06,113.06 L652.46,112.97 L653.87,112.88 L655.27,112.79 L656.67,112.70 L658.07,112.61 L659.47,112.52 L660.87,112.43 L662.27,112.34 L663.67,112.25 L665.07,112.16 L666.47,112.08 L667.88,111.99 L669.28,111.90 L670.68,111.81 L672.08,111.72 L673.48,111.64 L674.88,111.55 L676.28,111.46 L677.68,111.38 L679.08,111.29 L680.48,111.20 L681.89,111.12 L683.29,111.03 L684.69,110.95 L686.09,110.86 L687.49,110.78 L688.89,110.69 L690.29,110.61 L691.69,110.53 L693.09,110.44 L694.49,110.36 L695.90,110.27 L697.30,110.19 L698.70,110.11 L700.10,110.02 L701.50,109.94" fill="none" stroke="#800080" stroke-width="4.1" stroke-dasharray="7.965 7.965" stroke-linejoin="round" stroke-linecap="square"/>
<path d="M92.43,354.48 L92.85,354.14 L93.26,353.79 L93.68,353.45 L94.10,353.10 L94.52,352.76 L94.93,352.42 L95.35,352.07 L95.77,351.73 L96.18,351.38 L96.60,351.04 L97.02,350.69 L97.44,350.35 L97.85,350.00 L98.27,349.66 L98.69,349.31 L99.10,348.97 L99.52,348.62 L99.94,348.27 L100.36,347.93 L100.77,347.58 L101.19,347.24 L101.61,346.89 L102.02,346.55 L102.44,346.20 L102.86,345.86 L103.28,345.51 L103.69,345.16 L104.11,344.82 L104.53,344.47 L104.95,344.13 L105.36,343.78 L105.78,343.43 L106.20,343.09 L106.61,342.74 L107.03,342.40 L107.45,342.05 L107.87,341.70 L108.28,341.36 L108.70,341.01 L109.12,340.66 L109.53,340.32 L109.95,339.97 L110.37,339.63 L110.79,339.28 L111.20,338.93 L111.62,338.59 L112.04,338.24 L112.45,337.90 L112.87,337.55 L113.29,337.21 L113.71,336.86 L114.12,336.52 L114.54,336.17 L114.96,335.83 L115.37,335.49 L115.79,335.14 L116.21,334.80 L116.63,334.46 L117.04,334.11 L117.46,333.77 L117.88,333.43 L118.29,333.09 L118.71,332.75 L119.13,332.41 L119.55,332.07 L119.96,331.73 L120.38,331.40 L120.80,331.06 L121.21,330.72 L121.63,330.39 L122.05,330.05 L122.47,329.72 L122.88,329.39 L123.30,329.06 L123.72,328.73 L124.13,328.40 L124.55,328.07 L124.97,327.74 L125.39,327.42 L125.80,327.09 L126.22,326.77 L126.64,326.45 L127.05,326.12 L127.47,325.80 L127.89,325.48 L128.31,325.17 L128.72,324.85 L129.14,324.53 L129.56,324.22 L129.97,323.91 L130.39,323.60 L130.81,323.29 L131.23,322.98 L131.64,322.67 L132.06,322.37 L132.48,322.06 L132.90,321.76 L133.31,321.46 L133.73,321.16 L134.15,320.86 L134.56,320.56 L134.98,320.27 L135.40,319.98 L135.82,319.68 L136.23,319.39 L136.65,319.11 L137.07,318.82 L137.48,318.53 L137.90,318.25 L138.32,317.97 L138.74,317.69 L139.15,317.41 L139.57,317.13 L139.99,316.86 L140.40,316.59 L140.82,316.31 L141.24,316.04 L141.66,315.78 L142.07,315.51 L142.49,315.25 L143.89,314.37 L145.29,313.52 L146.69,312.69 L148.09,311.87 L149.50,311.08 L150.90,310.32 L152.30,309.57 L153.70,308.85 L155.10,308.15 L156.50,307.45 L157.90,306.77 L159.30,306.12 L160.70,305.49 L162.10,304.88 L163.51,304.30 L164.91,303.74 L166.31,303.21 L167.71,302.70 L169.11,302.21 L170.51,301.75 L171.91,301.31 L173.31,300.90 L174.71,300.51 L176.11,300.14 L177.52,299.80 L178.92,299.47 L180.32,299.17 L181.72,298.89 L183.12,298.64 L184.52,298.40 L185.92,298.18 L187.32,297.99 L188.72,297.81 L190.12,297.66 L191.53,297.52 L192.93,297.41 L194.33,297.31 L195.73,297.23 L197.13,297.17 L198.53,297.13 L199.93,297.10 L201.33,297.10 L202.73,297.11 L204.14,297.14 L205.54,297.21 L206.94,297.31 L208.34,297.43 L209.74,297.56 L211.14,297.71 L212.54,297.87 L213.94,298.05 L215.34,298.24 L216.74,298.45 L218.15,298.67 L219.55,298.91 L220.95,299.16 L222.35,299.43 L223.75,299.71 L225.15,300.00 L226.55,300.31 L227.95,300.63 L229.35,300.96 L230.75,301.31 L232.16,301.68 L233.56,302.05 L234.96,302.45 L236.36,302.85 L237.76,303.27 L239.16,303.71 L240.56,304.16 L241.96,304.62 L243.36,305.10 L244.77,305.60 L246.17,306.11 L247.57,306.63 L248.97,307.18 L250.37,307.73 L251.77,308.30 L253.17,308.89 L254.57,309.49 L255.97,310.11 L257.37,310.74 L258.78,311.39 L260.18,312.05 L261.58,312.72 L262.98,313.41 L264.38,314.11 L265.78,314.83 L267.18,315.55 L268.58,316.28 L269.98,317.01 L271.38,317.76 L272.79,318.51 L274.19,319.28 L275.59,320.05 L276.99,320.83 L278.39,321.62 L279.79,322.42 L281.19,323.22 L282.59,324.03 L283.99,324.84 L285.39,325.66 L286.80,326.47 L288.20,327.29 L289.60,328.11 L291.00,328.93 L292.40,329.75 L293.80,330.56 L295.20,331.38 L296.60,332.19 L298.00,333.00 L299.41,333.80 L300.81,334.61 L302.21,335.41 L303.61,336.21 L305.01,337.01 L306.41,337.80 L307.81,338.60 L309.21,339.39 L310.61,340.18 L312.01,340.97 L313.42,341.76 L314.82,342.55 L316.22,343.34 L317.62,344.12 L319.02,344.90 L320.42,345.68 L321.82,346.46 L323.22,347.24 L324.62,348.01 L326.02,348.78 L327.43,349.55 L328.83,350.32 L330.23,351.08 L331.63,351.85 L333.03,352.61 L334.43,353.36 L335.83,354.12 L337.23,354.87 L338.63,355.62 L340.03,356.37 L341.44,357.11 L342.84,357.85 L344.24,358.59 L345.64,359.33 L347.04,360.06 L348.44,360.79 L349.84,361.52 L351.24,362.24 L352.64,362.96 L354.05,363.68 L355.45,364.39 L356.85,365.10 L358.25,365.81 L359.65,366.51 L361.05,367.21 L362.45,367.90 L363.85,368.59 L365.25,369.27 L366.65,369.95 L368.06,370.63 L369.46,371.30 L370.86,371.97 L372.26,372.63 L373.66,373.29 L375.06,373.94 L376.46,374.59 L377.86,375.24 L379.26,375.87 L380.66,376.51 L382.07,377.14 L383.47,377.76 L384.87,378.38 L386.27,378.99 L387.67,379.59 L389.07,380.19 L390.47,380.79 L391.87,381.39 L393.27,382.00 L394.67,382.61 L396.08,383.21 L397.48,383.81 L398.88,384.40 L400.28,384.99 L401.68,385.57 L403.08,386.15 L404.48,386.72 L405.88,387.28 L407.28,387.84 L408.69,388.40 L410.09,388.95 L411.49,389.50 L412.89,390.04 L414.29,390.58 L415.69,391.11 L417.09,391.64 L418.49,392.17 L419.89,392.69 L421.29,393.21 L422.70,393.72 L424.10,394.23 L425.50,394.74 L426.90,395.25 L428.30,395.75 L429.70,396.25 L431.10,396.75 L432.50,397.24 L433.90,397.73 L435.30,398.22 L436.71,398.71 L438.11,399.20 L439.51,399.68 L440.91,400.17 L442.31,400.60 L443.71,401.03 L445.11,401.46 L446.51,401.88 L447.91,402.31 L449.32,402.73 L450.72,403.16 L452.12,403.58 L453.52,404.00 L454.92,404.42 L456.32,404.84 L457.72,405.25 L459.12,405.67 L460.52,406.08 L461.92,406.49 L463.33,406.90 L464.73,407.31 L466.13,407.71 L467.53,408.11 L468.93,408.51 L470.33,408.91 L471.73,409.30 L473.13,409.70 L474.53,410.08 L475.93,410.47 L477.34,410.85 L478.74,411.23 L480.14,411.61 L481.54,411.98 L482.94,412.35 L484.34,412.71 L485.74,413.07 L487.14,413.43 L488.54,413.78 L489.94,414.12 L491.35,414.46 L492.75,414.80 L494.15,415.13 L495.55,415.45 L496.95,415.77 L498.35,416.09 L499.75,416.40 L501.15,416.70 L502.55,416.99 L503.96,417.29 L505.36,417.60 L506.76,417.90 L508.16,418.19 L509.56,418.48 L510.96,418.77 L512.36,419.04 L513.76,419.32 L515.16,419.58 L516.56,419.84 L517.97,420.10 L519.37,420.35 L520.77,420.60 L522.17,420.84 L523.57,421.07 L524.97,421.30 L526.37,421.53 L527.77,421.75 L529.17,421.97 L530.57,422.18 L531.98,422.39 L533.38,422.60 L534.78,422.80 L536.18,422.99 L537.58,423.19 L538.98,423.37 L540.38,423.56 L541.78,423.74 L543.18,423.92 L544.58,424.09 L545.99,424.26 L547.39,424.43 L548.79,424.59 L550.19,424.76 L551.59,424.91 L552.99,425.07 L554.39,425.22 L555.79,425.37 L557.19,425.52 L558.60,425.66 L560.00,425.80 L561.40,425.94 L562.80,426.08 L564.20,426.21 L565.60,426.34 L567.00,426.47 L568.40,426.59 L569.80,426.72 L571.20,426.84 L572.61,426.96 L574.01,427.07 L575.41,427.19 L576.81,427.30 L578.21,427.41 L579.61,427.49 L581.01,427.57 L582.41,427.65 L583.81,427.73 L585.21,427.80 L586.62,427.88 L588.02,427.95 L589.42,428.02 L590.82,428.09 L592.22,428.16 L593.62,428.22 L595.02,428.28 L596.42,428.35 L597.82,428.41 L599.22,428.47 L600.63,428.52 L602.03,428.58 L603.43,428.63 L604.83,428.69 L606.23,428.74 L607.63,428.79 L609.03,428.84 L610.43,428.89 L611.83,428.93 L613.24,428.98 L614.64,429.02 L616.04,429.06 L617.44,429.10 L618.84,429.14 L620.24,429.18 L621.64,429.22 L623.04,429.26 L624.44,429.29 L625.84,429.33 L627.25,429.36 L628.65,429.41 L630.05,429.47 L631.45,429.52 L632.85,429.57 L634.25,429.63 L635.65,429.68 L637.05,429.73 L638.45,429.78 L639.85,429.83 L641.26,429.87 L642.66,429.92 L644.06,429.96 L645.46,430.01 L646.86,430.05 L648.26,430.09 L649.66,430.13 L651.06,430.17 L652.46,430.21 L653.87,430.24 L655.27,430.28 L656.67,430.31 L658.07,430.35 L659.47,430.38 L660.87,430.41 L662.27,430.44 L663.67,430.47 L665.07,430.50 L666.47,430.53 L667.88,430.56 L669.28,430.59 L670.68,430.62 L672.08,430.65 L673.48,430.67 L674.88,430.70 L676.28,430.73 L677.68,430.75 L679.08,430.78 L680.48,430.81 L681.89,430.83 L683.29,430.86 L684.69,430.89 L686.09,430.91 L687.49,430.94 L688.89,430.97 L690.29,430.99 L691.69,431.02 L693.09,431.04 L694.49,431.07 L695.90,431.09 L697.30,431.12 L698.70,431.15 L700.10,431.17 L701.50,431.20" fill="none" stroke="#996633" stroke-width="4.1" stroke-linejoin="round" stroke-linecap="square"/>
<path d="M92.43,416.71 L92.85,416.19 L93.26,415.67 L93.68,415.16 L94.10,414.64 L94.52,414.13 L94.93,413.62 L95.35,413.11 L95.77,412.60 L96.18,412.09 L96.60,411.58 L97.02,411.07 L97.44,410.56 L97.85,410.04 L98.27,409.53 L98.69,409.01 L99.10,408.50 L99.52,407.98 L99.94,407.47 L100.36,406.95 L100.77,406.43 L101.19,405.92 L101.61,405.40 L102.02,404.88 L102.44,404.36 L102.86,403.84 L103.28,403.33 L103.69,402.81 L104.11,402.29 L104.53,401.77 L104.95,401.25 L105.36,400.74 L105.78,400.22 L106.20,399.70 L106.61,399.19 L107.03,398.67 L107.45,398.16 L107.87,397.64 L108.28,397.13 L108.70,396.61 L109.12,396.10 L109.53,395.59 L109.95,395.08 L110.37,394.57 L110.79,394.06 L111.20,393.55 L111.62,393.05 L112.04,392.54 L112.45,392.04 L112.87,391.54 L113.29,391.04 L113.71,390.54 L114.12,390.04 L114.54,389.55 L114.96,389.05 L115.37,388.56 L115.79,388.07 L116.21,387.58 L116.63,387.10 L117.04,386.61 L117.46,386.13 L117.88,385.64 L118.29,385.17 L118.71,384.69 L119.13,384.21 L119.55,383.74 L119.96,383.27 L120.38,382.80 L120.80,382.33 L121.21,381.86 L121.63,381.40 L122.05,380.94 L122.47,380.48 L122.88,380.02 L123.30,379.56 L123.72,379.11 L124.13,378.66 L124.55,378.21 L124.97,377.76 L125.39,377.32 L125.80,376.88 L126.22,376.44 L126.64,376.00 L127.05,375.56 L127.47,375.13 L127.89,374.70 L128.31,374.27 L128.72,373.84 L129.14,373.42 L129.56,372.99 L129.97,372.57 L130.39,372.15 L130.81,371.73 L131.23,371.32 L131.64,370.90 L132.06,370.49 L132.48,370.08 L132.90,369.67 L133.31,369.26 L133.73,368.86 L134.15,368.46 L134.56,368.05 L134.98,367.65 L135.40,367.26 L135.82,366.86 L136.23,366.46 L136.65,366.07 L137.07,365.68 L137.48,365.29 L137.90,364.90 L138.32,364.51 L138.74,364.12 L139.15,363.74 L139.57,363.36 L139.99,362.98 L140.40,362.60 L140.82,362.22 L141.24,361.84 L141.66,361.46 L142.07,361.09 L142.49,360.71 L143.89,359.47 L145.29,358.24 L146.69,357.02 L148.09,355.82 L149.50,354.63 L150.90,353.45 L152.30,352.28 L153.70,351.13 L155.10,349.98 L156.50,348.85 L157.90,347.73 L159.30,346.62 L160.70,345.52 L162.10,344.43 L163.51,343.35 L164.91,342.28 L166.31,341.22 L167.71,340.17 L169.11,339.14 L170.51,338.11 L171.91,337.10 L173.31,336.10 L174.71,335.12 L176.11,334.14 L177.52,333.18 L178.92,332.23 L180.32,331.29 L181.72,330.35 L183.12,329.43 L184.52,328.52 L185.92,327.61 L187.32,326.71 L188.72,325.82 L190.12,324.93 L191.53,324.06 L192.93,323.19 L194.33,322.32 L195.73,321.47 L197.13,320.62 L198.53,319.77 L199.93,318.93 L201.33,318.10 L202.73,317.28 L204.14,316.46 L205.54,315.65 L206.94,314.84 L208.34,314.04 L209.74,313.24 L211.14,312.45 L212.54,311.67 L213.94,310.89 L215.34,310.12 L216.74,309.36 L218.15,308.60 L219.55,307.85 L220.95,307.11 L222.35,306.37 L223.75,305.64 L225.15,304.92 L226.55,304.20 L227.95,303.49 L229.35,302.79 L230.75,302.09 L232.16,301.40 L233.56,300.71 L234.96,300.03 L236.36,299.36 L237.76,298.69 L239.16,298.02 L240.56,297.37 L241.96,296.71 L243.36,296.06 L244.77,295.42 L246.17,294.78 L247.57,294.15 L248.97,293.52 L250.37,292.89 L251.77,292.27 L253.17,291.65 L254.57,291.04 L255.97,290.43 L257.37,289.82 L258.78,289.22 L260.18,288.62 L261.58,288.03 L262.98,287.44 L264.38,286.85 L265.78,286.27 L267.18,285.69 L268.58,285.13 L269.98,284.58 L271.38,284.03 L272.79,283.48 L274.19,282.93 L275.59,282.39 L276.99,281.86 L278.39,281.32 L279.79,280.80 L281.19,280.27 L282.59,279.76 L283.99,279.24 L285.39,278.73 L286.80,278.23 L288.20,277.73 L289.60,277.24 L291.00,276.75 L292.40,276.26 L293.80,275.78 L295.20,275.30 L296.60,274.83 L298.00,274.37 L299.41,273.91 L300.81,273.45 L302.21,273.00 L303.61,272.56 L305.01,272.11 L306.41,271.68 L307.81,271.25 L309.21,270.82 L310.61,270.40 L312.01,269.98 L313.42,269.57 L314.82,269.16 L316.22,268.76 L317.62,268.36 L319.02,267.97 L320.42,267.58 L321.82,267.19 L323.22,266.81 L324.62,266.44 L326.02,266.07 L327.43,265.70 L328.83,265.34 L330.23,264.98 L331.63,264.62 L333.03,264.27 L334.43,263.93 L335.83,263.59 L337.23,263.25 L338.63,262.91 L340.03,262.58 L341.44,262.26 L342.84,261.93 L344.24,261.62 L345.64,261.30 L347.04,260.99 L348.44,260.67 L349.84,260.33 L351.24,260.00 L352.64,259.68 L354.05,259.35 L355.45,259.04 L356.85,258.72 L358.25,258.41 L359.65,258.10 L361.05,257.79 L362.45,257.49 L363.85,257.19 L365.25,256.89 L366.65,256.59 L368.06,256.30 L369.46,256.01 L370.86,255.73 L372.26,255.44 L373.66,255.16 L375.06,254.88 L376.46,254.61 L377.86,254.33 L379.26,254.06 L380.66,253.79 L382.07,253.53 L383.47,253.27 L384.87,253.00 L386.27,252.74 L387.67,252.49 L389.07,252.23 L390.47,251.98 L391.87,251.73 L393.27,251.48 L394.67,251.23 L396.08,250.99 L397.48,250.75 L398.88,250.51 L400.28,250.27 L401.68,250.03 L403.08,249.79 L404.48,249.56 L405.88,249.33 L407.28,249.10 L408.69,248.87 L410.09,248.64 L411.49,248.41 L412.89,248.19 L414.29,247.97 L415.69,247.75 L417.09,247.53 L418.49,247.31 L419.89,247.09 L421.29,246.88 L422.70,246.67 L424.10,246.46 L425.50,246.26 L426.90,246.06 L428.30,245.86 L429.70,245.66 L431.10,245.47 L432.50,245.27 L433.90,245.08 L435.30,244.88 L436.71,244.69 L438.11,244.50 L439.51,244.31 L440.91,244.12 L442.31,243.94 L443.71,243.75 L445.11,243.56 L446.51,243.38 L447.91,243.20 L449.32,243.02 L450.72,242.84 L452.12,242.66 L453.52,242.48 L454.92,242.30 L456.32,242.12 L457.72,241.95 L459.12,241.77 L460.52,241.60 L461.92,241.43 L463.33,241.26 L464.73,241.09 L466.13,240.92 L467.53,240.75 L468.93,240.58 L470.33,240.41 L471.73,240.25 L473.13,240.08 L474.53,239.92 L475.93,239.76 L477.34,239.59 L478.74,239.43 L480.14,239.27 L481.54,239.11 L482.94,238.96 L484.34,238.80 L485.74,238.64 L487.14,238.49 L488.54,238.33 L489.94,238.18 L491.35,238.02 L492.75,237.87 L494.15,237.72 L495.55,237.57 L496.95,237.42 L498.35,237.27 L499.75,237.13 L501.15,236.98 L502.55,236.83 L503.96,236.69 L505.36,236.55 L506.76,236.40 L508.16,236.26 L509.56,236.12 L510.96,235.98 L512.36,235.84 L513.76,235.70 L515.16,235.56 L516.56,235.43 L517.97,235.29 L519.37,235.15 L520.77,235.02 L522.17,234.89 L523.57,234.75 L524.97,234.62 L526.37,234.49 L527.77,234.36 L529.17,234.23 L530.57,234.10 L531.98,233.98 L533.38,233.85 L534.78,233.72 L536.18,233.60 L537.58,233.47 L538.98,233.35 L540.38,233.23 L541.78,233.11 L543.18,232.99 L544.58,232.87 L545.99,232.75 L547.39,232.63 L548.79,232.51 L550.19,232.39 L551.59,232.27 L552.99,232.15 L554.39,232.04 L555.79,231.92 L557.19,231.81 L558.60,231.69 L560.00,231.58 L561.40,231.47 L562.80,231.36 L564.20,231.24 L565.60,231.13 L567.00,231.03 L568.40,230.92 L569.80,230.81 L571.20,230.70 L572.61,230.59 L574.01,230.49 L575.41,230.38 L576.81,230.28 L578.21,230.18 L579.61,230.07 L581.01,229.97 L582.41,229.87 L583.81,229.77 L585.21,229.67 L586.62,229.57 L588.02,229.47 L589.42,229.37 L590.82,229.27 L592.22,229.18 L593.62,229.08 L595.02,228.99 L596.42,228.89 L597.82,228.80 L599.22,228.70 L600.63,228.61 L602.03,228.52 L603.43,228.43 L604.83,228.34 L606.23,228.25 L607.63,228.16 L609.03,228.07 L610.43,227.98 L611.83,227.89 L613.24,227.80 L614.64,227.72 L616.04,227.63 L617.44,227.54 L618.84,227.46 L620.24,227.37 L621.64,227.29 L623.04,227.21 L624.44,227.12 L625.84,227.04 L627.25,226.96 L628.65,226.88 L630.05,226.79 L631.45,226.71 L632.85,226.63 L634.25,226.55 L635.65,226.47 L637.05,226.40 L638.45,226.32 L639.85,226.24 L641.26,226.17 L642.66,226.09 L644.06,226.02 L645.46,225.94 L646.86,225.87 L648.26,225.80 L649.66,225.73 L651.06,225.66 L652.46,225.58 L653.87,225.51 L655.27,225.44 L656.67,225.37 L658.07,225.30 L659.47,225.23 L660.87,225.17 L662.27,225.10 L663.67,225.03 L665.07,224.96 L666.47,224.89 L667.88,224.82 L669.28,224.76 L670.68,224.69 L672.08,224.62 L673.48,224.56 L674.88,224.49 L676.28,224.43 L677.68,224.36 L679.08,224.30 L680.48,224.23 L681.89,224.17 L683.29,224.10 L684.69,224.04 L686.09,223.97 L687.49,223.91 L688.89,223.84 L690.29,223.78 L691.69,223.72 L693.09,223.65 L694.49,223.59 L695.90,223.53 L697.30,223.46 L698.70,223.40 L700.10,223.34 L701.50,223.28" fill="none" stroke="#996633" stroke-width="4.1" stroke-dasharray="7.985 7.985" stroke-linejoin="round" stroke-linecap="square"/>
<path d="M92.43,222.10 L92.85,222.39 L93.26,222.69 L93.68,222.99 L94.10,223.29 L94.52,223.58 L94.93,223.88 L95.35,224.18 L95.77,224.48 L96.18,224.78 L96.60,225.07 L97.02,225.37 L97.44,225.67 L97.85,225.97 L98.27,226.27 L98.69,226.57 L99.10,226.87 L99.52,227.17 L99.94,227.48 L100.36,227.78 L100.77,228.08 L101.19,228.38 L101.61,228.69 L102.02,228.99 L102.44,229.30 L102.86,229.60 L103.28,229.91 L103.69,230.22 L104.11,230.52 L104.53,230.83 L104.95,231.14 L105.36,231.45 L105.78,231.76 L106.20,232.07 L106.61,232.38 L107.03,232.70 L107.45,233.01 L107.87,233.32 L108.28,233.64 L108.70,233.95 L109.12,234.27 L109.53,234.59 L109.95,234.91 L110.37,235.23 L110.79,235.55 L111.20,235.87 L111.62,236.19 L112.04,236.51 L112.45,236.84 L112.87,237.16 L113.29,237.49 L113.71,237.81 L114.12,238.14 L114.54,238.47 L114.96,238.80 L115.37,239.13 L115.79,239.46 L116.21,239.79 L116.63,240.12 L117.04,240.45 L117.46,240.79 L117.88,241.12 L118.29,241.46 L118.71,241.79 L119.13,242.13 L119.55,242.47 L119.96,242.81 L120.38,243.15 L120.80,243.49 L121.21,243.83 L121.63,244.17 L122.05,244.52 L122.47,244.86 L122.88,245.21 L123.30,245.55 L123.72,245.90 L124.13,246.24 L124.55,246.59 L124.97,246.94 L125.39,247.29 L125.80,247.64 L126.22,247.99 L126.64,248.34 L127.05,248.69 L127.47,249.04 L127.89,249.40 L128.31,249.75 L128.72,250.10 L129.14,250.46 L129.56,250.82 L129.97,251.17 L130.39,251.53 L130.81,251.89 L131.23,252.24 L131.64,252.60 L132.06,252.96 L132.48,253.32 L132.90,253.68 L133.31,254.04 L133.73,254.41 L134.15,254.77 L134.56,255.13 L134.98,255.49 L135.40,255.86 L135.82,256.22 L136.23,256.59 L136.65,256.95 L137.07,257.32 L137.48,257.68 L137.90,258.05 L138.32,258.42 L138.74,258.79 L139.15,259.15 L139.57,259.52 L139.99,259.89 L140.40,260.26 L140.82,260.63 L141.24,261.00 L141.66,261.37 L142.07,261.74 L142.49,262.11 L143.89,263.36 L145.29,264.62 L146.69,265.87 L148.09,267.13 L149.50,268.40 L150.90,269.66 L152.30,270.93 L153.70,272.20 L155.10,273.47 L156.50,274.75 L157.90,276.02 L159.30,277.30 L160.70,278.58 L162.10,279.86 L163.51,281.14 L164.91,282.42 L166.31,283.71 L167.71,284.99 L169.11,286.27 L170.51,287.55 L171.91,288.84 L173.31,290.12 L174.71,291.40 L176.11,292.68 L177.52,293.97 L178.92,295.24 L180.32,296.52 L181.72,297.80 L183.12,299.07 L184.52,300.34 L185.92,301.61 L187.32,302.88 L188.72,304.14 L190.12,305.40 L191.53,306.66 L192.93,307.91 L194.33,309.16 L195.73,310.41 L197.13,311.65 L198.53,312.89 L199.93,314.12 L201.33,315.34 L202.73,316.57 L204.14,317.78 L205.54,318.99 L206.94,320.20 L208.34,321.40 L209.74,322.59 L211.14,323.78 L212.54,324.97 L213.94,326.14 L215.34,327.32 L216.74,328.48 L218.15,329.65 L219.55,330.80 L220.95,331.95 L222.35,333.10 L223.75,334.24 L225.15,335.37 L226.55,336.50 L227.95,337.62 L229.35,338.74 L230.75,339.85 L232.16,340.95 L233.56,342.05 L234.96,343.14 L236.36,344.23 L237.76,345.31 L239.16,346.38 L240.56,347.44 L241.96,348.50 L243.36,349.56 L244.77,350.60 L246.17,351.64 L247.57,352.67 L248.97,353.69 L250.37,354.71 L251.77,355.72 L253.17,356.71 L254.57,357.70 L255.97,358.68 L257.37,359.66 L258.78,360.62 L260.18,361.57 L261.58,362.52 L262.98,363.45 L264.38,364.37 L265.78,365.29 L267.18,366.19 L268.58,367.09 L269.98,367.97 L271.38,368.84 L272.79,369.71 L274.19,370.56 L275.59,371.41 L276.99,372.25 L278.39,373.08 L279.79,373.90 L281.19,374.71 L282.59,375.51 L283.99,376.31 L285.39,377.09 L286.80,377.85 L288.20,378.59 L289.60,379.32 L291.00,380.05 L292.40,380.77 L293.80,381.48 L295.20,382.18 L296.60,382.88 L298.00,383.57 L299.41,384.25 L300.81,384.92 L302.21,385.59 L303.61,386.24 L305.01,386.90 L306.41,387.54 L307.81,388.18 L309.21,388.81 L310.61,389.43 L312.01,390.05 L313.42,390.66 L314.82,391.27 L316.22,391.87 L317.62,392.46 L319.02,393.05 L320.42,393.63 L321.82,394.20 L323.22,394.76 L324.62,395.32 L326.02,395.88 L327.43,396.42 L328.83,396.96 L330.23,397.49 L331.63,398.01 L333.03,398.53 L334.43,399.04 L335.83,399.54 L337.23,400.04 L338.63,400.53 L340.03,401.01 L341.44,401.48 L342.84,401.98 L344.24,402.48 L345.64,402.98 L347.04,403.46 L348.44,403.94 L349.84,404.41 L351.24,404.87 L352.64,405.32 L354.05,405.77 L355.45,406.21 L356.85,406.64 L358.25,407.06 L359.65,407.48 L361.05,407.89 L362.45,408.29 L363.85,408.69 L365.25,409.08 L366.65,409.46 L368.06,409.84 L369.46,410.21 L370.86,410.57 L372.26,410.93 L373.66,411.28 L375.06,411.62 L376.46,411.96 L377.86,412.29 L379.26,412.62 L380.66,412.94 L382.07,413.26 L383.47,413.57 L384.87,413.87 L386.27,414.17 L387.67,414.46 L389.07,414.75 L390.47,415.04 L391.87,415.32 L393.27,415.59 L394.67,415.86 L396.08,416.13 L397.48,416.39 L398.88,416.65 L400.28,416.90 L401.68,417.15 L403.08,417.40 L404.48,417.64 L405.88,417.88 L407.28,418.11 L408.69,418.34 L410.09,418.57 L411.49,418.79 L412.89,419.01 L414.29,419.23 L415.69,419.45 L417.09,419.66 L418.49,419.86 L419.89,420.07 L421.29,420.27 L422.70,420.47 L424.10,420.66 L425.50,420.85 L426.90,421.03 L428.30,421.22 L429.70,421.40 L431.10,421.58 L432.50,421.75 L433.90,421.93 L435.30,422.10 L436.71,422.27 L438.11,422.43 L439.51,422.59 L440.91,422.76 L442.31,422.92 L443.71,423.07 L445.11,423.23 L446.51,423.38 L447.91,423.53 L449.32,423.68 L450.72,423.82 L452.12,423.97 L453.52,424.11 L454.92,424.25 L456.32,424.39 L457.72,424.52 L459.12,424.66 L460.52,424.79 L461.92,424.92 L463.33,425.05 L464.73,425.18 L466.13,425.30 L467.53,425.43 L468.93,425.55 L470.33,425.67 L471.73,425.79 L473.13,425.91 L474.53,426.02 L475.93,426.14 L477.34,426.25 L478.74,426.37 L480.14,426.48 L481.54,426.59 L482.94,426.70 L484.34,426.81 L485.74,426.92 L487.14,427.02 L488.54,427.13 L489.94,427.23 L491.35,427.34 L492.75,427.44 L494.15,427.54 L495.55,427.64 L496.95,427.74 L498.35,427.84 L499.75,427.94 L501.15,428.04 L502.55,428.14 L503.96,428.23 L505.36,428.33 L506.76,428.43 L508.16,428.52 L509.56,428.62 L510.96,428.71 L512.36,428.81 L513.76,428.90 L515.16,428.99 L516.56,429.07 L517.97,429.13 L519.37,429.20 L520.77,429.26 L522.17,429.33 L523.57,429.39 L524.97,429.45 L526.37,429.51 L527.77,429.58 L529.17,429.64 L530.57,429.69 L531.98,429.75 L533.38,429.81 L534.78,429.87 L536.18,429.92 L537.58,429.98 L538.98,430.03 L540.38,430.09 L541.78,430.14 L543.18,430.19 L544.58,430.24 L545.99,430.29 L547.39,430.34 L548.79,430.38 L550.19,430.43 L551.59,430.48 L552.99,430.52 L554.39,430.56 L555.79,430.61 L557.19,430.65 L558.60,430.69 L560.00,430.73 L561.40,430.77 L562.80,430.80 L564.20,430.84 L565.60,430.87 L567.00,430.91 L568.40,430.94 L569.80,430.97 L571.20,431.00 L572.61,431.03 L574.01,431.06 L575.41,431.09 L576.81,431.11 L578.21,431.14 L579.61,431.18 L581.01,431.22 L582.41,431.25 L583.81,431.29 L585.21,431.33 L586.62,431.36 L588.02,431.39 L589.42,431.42 L590.82,431.45 L592.22,431.48 L593.62,431.51 L595.02,431.54 L596.42,431.57 L597.82,431.59 L599.22,431.62 L600.63,431.64 L602.03,431.67 L603.43,431.69 L604.83,431.71 L606.23,431.73 L607.63,431.75 L609.03,431.77 L610.43,431.79 L611.83,431.81 L613.24,431.83 L614.64,431.85 L616.04,431.86 L617.44,431.88 L618.84,431.89 L620.24,431.91 L621.64,431.92 L623.04,431.94 L624.44,431.95 L625.84,431.96 L627.25,431.98 L628.65,431.99 L630.05,432.00 L631.45,432.01 L632.85,432.02 L634.25,432.03 L635.65,432.04 L637.05,432.05 L638.45,432.06 L639.85,432.07 L641.26,432.08 L642.66,432.08 L644.06,432.09 L645.46,432.10 L646.86,432.11 L648.26,432.11 L649.66,432.12 L651.06,432.12 L652.46,432.13 L653.87,432.14 L655.27,432.14 L656.67,432.15 L658.07,432.15 L659.47,432.16 L660.87,432.16 L662.27,432.17 L663.67,432.17 L665.07,432.17 L666.47,432.18 L667.88,432.18 L669.28,432.18 L670.68,432.19 L672.08,432.19 L673.48,432.19 L674.88,432.20 L676.28,432.20 L677.68,432.20 L679.08,432.20 L680.48,432.21 L681.89,432.21 L683.29,432.21 L684.69,432.21 L686.09,432.21 L687.49,432.22 L688.89,432.22 L690.29,432.22 L691.69,432.22 L693.09,432.22 L694.49,432.23 L695.90,432.23 L697.30,432.23 L698.70,432.23 L700.10,432.23 L701.50,432.23" fill="none" stroke="#ff0000" stroke-width="4.1" stroke-linejoin="round" stroke-linecap="square"/>
<path d="M92.43,428.31 L92.85,428.13 L93.26,427.94 L93.68,427.76 L94.10,427.57 L94.52,427.39 L94.93,427.21 L95.35,427.03 L95.77,426.85 L96.18,426.68 L96.60,426.50 L97.02,426.33 L97.44,426.15 L97.85,425.98 L98.27,425.80 L98.69,425.63 L99.10,425.46 L99.52,425.29 L99.94,425.12 L100.36,424.95 L100.77,424.78 L101.19,424.61 L101.61,424.44 L102.02,424.27 L102.44,424.10 L102.86,423.94 L103.28,423.77 L103.69,423.60 L104.11,423.44 L104.53,423.27 L104.95,423.10 L105.36,422.94 L105.78,422.77 L106.20,422.61 L106.61,422.44 L107.03,422.28 L107.45,422.12 L107.87,421.95 L108.28,421.79 L108.70,421.63 L109.12,421.47 L109.53,421.31 L109.95,421.15 L110.37,420.99 L110.79,420.83 L111.20,420.67 L111.62,420.51 L112.04,420.36 L112.45,420.20 L112.87,420.04 L113.29,419.89 L113.71,419.73 L114.12,419.58 L114.54,419.42 L114.96,419.27 L115.37,419.12 L115.79,418.96 L116.21,418.81 L116.63,418.66 L117.04,418.51 L117.46,418.36 L117.88,418.21 L118.29,418.06 L118.71,417.91 L119.13,417.76 L119.55,417.62 L119.96,417.47 L120.38,417.32 L120.80,417.18 L121.21,417.03 L121.63,416.89 L122.05,416.74 L122.47,416.60 L122.88,416.46 L123.30,416.31 L123.72,416.17 L124.13,416.03 L124.55,415.89 L124.97,415.75 L125.39,415.61 L125.80,415.47 L126.22,415.33 L126.64,415.19 L127.05,415.05 L127.47,414.91 L127.89,414.78 L128.31,414.64 L128.72,414.50 L129.14,414.37 L129.56,414.23 L129.97,414.10 L130.39,413.96 L130.81,413.83 L131.23,413.69 L131.64,413.56 L132.06,413.43 L132.48,413.29 L132.90,413.16 L133.31,413.03 L133.73,412.89 L134.15,412.76 L134.56,412.63 L134.98,412.50 L135.40,412.37 L135.82,412.24 L136.23,412.11 L136.65,411.98 L137.07,411.85 L137.48,411.72 L137.90,411.59 L138.32,411.46 L138.74,411.33 L139.15,411.20 L139.57,411.07 L139.99,410.95 L140.40,410.82 L140.82,410.69 L141.24,410.56 L141.66,410.44 L142.07,410.31 L142.49,410.18 L143.89,409.76 L145.29,409.34 L146.69,408.92 L148.09,408.51 L149.50,408.09 L150.90,407.68 L152.30,407.27 L153.70,406.86 L155.10,406.45 L156.50,406.04 L157.90,405.64 L159.30,405.23 L160.70,404.83 L162.10,404.43 L163.51,404.03 L164.91,403.63 L166.31,403.23 L167.71,402.84 L169.11,402.45 L170.51,402.06 L171.91,401.68 L173.31,401.30 L174.71,400.93 L176.11,400.56 L177.52,400.20 L178.92,399.84 L180.32,399.49 L181.72,399.15 L183.12,398.81 L184.52,398.47 L185.92,398.14 L187.32,397.81 L188.72,397.49 L190.12,397.17 L191.53,396.85 L192.93,396.54 L194.33,396.23 L195.73,395.92 L197.13,395.62 L198.53,395.33 L199.93,395.03 L201.33,394.74 L202.73,394.45 L204.14,394.16 L205.54,393.88 L206.94,393.60 L208.34,393.32 L209.74,393.05 L211.14,392.78 L212.54,392.51 L213.94,392.24 L215.34,391.97 L216.74,391.71 L218.15,391.45 L219.55,391.19 L220.95,390.93 L222.35,390.67 L223.75,390.41 L225.15,390.16 L226.55,389.90 L227.95,389.65 L229.35,389.40 L230.75,389.15 L232.16,388.90 L233.56,388.65 L234.96,388.41 L236.36,388.16 L237.76,387.91 L239.16,387.67 L240.56,387.42 L241.96,387.18 L243.36,386.94 L244.77,386.70 L246.17,386.46 L247.57,386.22 L248.97,385.98 L250.37,385.74 L251.77,385.51 L253.17,385.27 L254.57,385.04 L255.97,384.81 L257.37,384.58 L258.78,384.35 L260.18,384.12 L261.58,383.89 L262.98,383.67 L264.38,383.44 L265.78,383.22 L267.18,383.00 L268.58,382.77 L269.98,382.54 L271.38,382.32 L272.79,382.10 L274.19,381.87 L275.59,381.65 L276.99,381.44 L278.39,381.22 L279.79,381.01 L281.19,380.79 L282.59,380.58 L283.99,380.37 L285.39,380.16 L286.80,379.96 L288.20,379.75 L289.60,379.55 L291.00,379.35 L292.40,379.15 L293.80,378.96 L295.20,378.76 L296.60,378.57 L298.00,378.38 L299.41,378.19 L300.81,378.00 L302.21,377.81 L303.61,377.63 L305.01,377.45 L306.41,377.26 L307.81,377.08 L309.21,376.91 L310.61,376.73 L312.01,376.56 L313.42,376.38 L314.82,376.21 L316.22,376.04 L317.62,375.88 L319.02,375.71 L320.42,375.55 L321.82,375.38 L323.22,375.22 L324.62,375.06 L326.02,374.90 L327.43,374.74 L328.83,374.59 L330.23,374.43 L331.63,374.28 L333.03,374.13 L334.43,373.98 L335.83,373.83 L337.23,373.68 L338.63,373.54 L340.03,373.39 L341.44,373.25 L342.84,373.11 L344.24,372.97 L345.64,372.83 L347.04,372.69 L348.44,372.55 L349.84,372.42 L351.24,372.28 L352.64,372.15 L354.05,372.02 L355.45,371.89 L356.85,371.76 L358.25,371.63 L359.65,371.50 L361.05,371.38 L362.45,371.25 L363.85,371.13 L365.25,371.00 L366.65,370.88 L368.06,370.76 L369.46,370.64 L370.86,370.52 L372.26,370.40 L373.66,370.29 L375.06,370.17 L376.46,370.05 L377.86,369.94 L379.26,369.83 L380.66,369.71 L382.07,369.60 L383.47,369.49 L384.87,369.38 L386.27,369.27 L387.67,369.16 L389.07,369.06 L390.47,368.95 L391.87,368.85 L393.27,368.74 L394.67,368.64 L396.08,368.53 L397.48,368.43 L398.88,368.33 L400.28,368.23 L401.68,368.13 L403.08,368.03 L404.48,367.93 L405.88,367.83 L407.28,367.74 L408.69,367.64 L410.09,367.54 L411.49,367.45 L412.89,367.36 L414.29,367.26 L415.69,367.17 L417.09,367.08 L418.49,366.98 L419.89,366.89 L421.29,366.80 L422.70,366.71 L424.10,366.62 L425.50,366.54 L426.90,366.45 L428.30,366.36 L429.70,366.27 L431.10,366.19 L432.50,366.10 L433.90,366.02 L435.30,365.93 L436.71,365.85 L438.11,365.77 L439.51,365.68 L440.91,365.60 L442.31,365.52 L443.71,365.44 L445.11,365.36 L446.51,365.28 L447.91,365.20 L449.32,365.12 L450.72,365.04 L452.12,364.96 L453.52,364.88 L454.92,364.81 L456.32,364.73 L457.72,364.65 L459.12,364.58 L460.52,364.50 L461.92,364.43 L463.33,364.35 L464.73,364.28 L466.13,364.21 L467.53,364.13 L468.93,364.06 L470.33,363.99 L471.73,363.92 L473.13,363.85 L474.53,363.77 L475.93,363.70 L477.34,363.63 L478.74,363.57 L480.14,363.50 L481.54,363.43 L482.94,363.36 L484.34,363.29 L485.74,363.23 L487.14,363.17 L488.54,363.11 L489.94,363.05 L491.35,362.99 L492.75,362.94 L494.15,362.88 L495.55,362.82 L496.95,362.77 L498.35,362.71 L499.75,362.65 L501.15,362.60 L502.55,362.54 L503.96,362.49 L505.36,362.43 L506.76,362.38 L508.16,362.32 L509.56,362.27 L510.96,362.22 L512.36,362.16 L513.76,362.11 L515.16,362.06 L516.56,362.01 L517.97,361.96 L519.37,361.91 L520.77,361.86 L522.17,361.80 L523.57,361.75 L524.97,361.70 L526.37,361.66 L527.77,361.61 L529.17,361.56 L530.57,361.51 L531.98,361.46 L533.38,361.41 L534.78,361.37 L536.18,361.32 L537.58,361.27 L538.98,361.23 L540.38,361.18 L541.78,361.13 L543.18,361.09 L544.58,361.04 L545.99,361.00 L547.39,360.95 L548.79,360.91 L550.19,360.87 L551.59,360.82 L552.99,360.78 L554.39,360.74 L555.79,360.69 L557.19,360.65 L558.60,360.61 L560.00,360.57 L561.40,360.53 L562.80,360.48 L564.20,360.44 L565.60,360.40 L567.00,360.36 L568.40,360.32 L569.80,360.28 L571.20,360.24 L572.61,360.20 L574.01,360.17 L575.41,360.13 L576.81,360.09 L578.21,360.05 L579.61,360.01 L581.01,359.97 L582.41,359.94 L583.81,359.90 L585.21,359.86 L586.62,359.83 L588.02,359.79 L589.42,359.75 L590.82,359.72 L592.22,359.68 L593.62,359.65 L595.02,359.61 L596.42,359.58 L597.82,359.54 L599.22,359.51 L600.63,359.47 L602.03,359.44 L603.43,359.41 L604.83,359.37 L606.23,359.34 L607.63,359.31 L609.03,359.27 L610.43,359.24 L611.83,359.21 L613.24,359.17 L614.64,359.14 L616.04,359.11 L617.44,359.08 L618.84,359.05 L620.24,359.01 L621.64,358.98 L623.04,358.95 L624.44,358.92 L625.84,358.89 L627.25,358.86 L628.65,358.83 L630.05,358.80 L631.45,358.77 L632.85,358.74 L634.25,358.71 L635.65,358.68 L637.05,358.65 L638.45,358.62 L639.85,358.59 L641.26,358.56 L642.66,358.53 L644.06,358.51 L645.46,358.48 L646.86,358.45 L648.26,358.42 L649.66,358.39 L651.06,358.36 L652.46,358.34 L653.87,358.31 L655.27,358.28 L656.67,358.25 L658.07,358.23 L659.47,358.20 L660.87,358.17 L662.27,358.14 L663.67,358.12 L665.07,358.09 L666.47,358.06 L667.88,358.04 L669.28,358.01 L670.68,357.98 L672.08,357.96 L673.48,357.93 L674.88,357.90 L676.28,357.88 L677.68,357.85 L679.08,357.83 L680.48,357.80 L681.89,357.77 L683.29,357.75 L684.69,357.72 L686.09,357.70 L687.49,357.67 L688.89,357.65 L690.29,357.62 L691.69,357.60 L693.09,357.57 L694.49,357.55 L695.90,357.52 L697.30,357.50 L698.70,357.47 L700.10,357.45 L701.50,357.42" fill="none" stroke="#ff0000" stroke-width="4.1" stroke-dasharray="7.960 7.960" stroke-linejoin="round" stroke-linecap="square"/>
<path d="M92.43,368.65 L92.85,368.85 L93.26,369.05 L93.68,369.26 L94.10,369.46 L94.52,369.66 L94.93,369.86 L95.35,370.07 L95.77,370.27 L96.18,370.47 L96.60,370.67 L97.02,370.87 L97.44,371.08 L97.85,371.28 L98.27,371.48 L98.69,371.68 L99.10,371.88 L99.52,372.09 L99.94,372.29 L100.36,372.49 L100.77,372.69 L101.19,372.89 L101.61,373.10 L102.02,373.30 L102.44,373.50 L102.86,373.70 L103.28,373.90 L103.69,374.10 L104.11,374.31 L104.53,374.51 L104.95,374.71 L105.36,374.91 L105.78,375.11 L106.20,375.31 L106.61,375.51 L107.03,375.71 L107.45,375.91 L107.87,376.12 L108.28,376.32 L108.70,376.52 L109.12,376.72 L109.53,376.92 L109.95,377.12 L110.37,377.32 L110.79,377.52 L111.20,377.72 L111.62,377.92 L112.04,378.12 L112.45,378.32 L112.87,378.52 L113.29,378.72 L113.71,378.92 L114.12,379.12 L114.54,379.32 L114.96,379.52 L115.37,379.72 L115.79,379.92 L116.21,380.11 L116.63,380.31 L117.04,380.51 L117.46,380.71 L117.88,380.91 L118.29,381.10 L118.71,381.30 L119.13,381.50 L119.55,381.70 L119.96,381.89 L120.38,382.09 L120.80,382.29 L121.21,382.48 L121.63,382.68 L122.05,382.87 L122.47,383.07 L122.88,383.26 L123.30,383.46 L123.72,383.65 L124.13,383.84 L124.55,384.04 L124.97,384.23 L125.39,384.42 L125.80,384.61 L126.22,384.80 L126.64,385.00 L127.05,385.19 L127.47,385.38 L127.89,385.57 L128.31,385.76 L128.72,385.95 L129.14,386.14 L129.56,386.33 L129.97,386.52 L130.39,386.70 L130.81,386.89 L131.23,387.08 L131.64,387.27 L132.06,387.45 L132.48,387.64 L132.90,387.82 L133.31,388.01 L133.73,388.19 L134.15,388.38 L134.56,388.56 L134.98,388.75 L135.40,388.93 L135.82,389.11 L136.23,389.29 L136.65,389.47 L137.07,389.65 L137.48,389.83 L137.90,390.01 L138.32,390.19 L138.74,390.37 L139.15,390.55 L139.57,390.73 L139.99,390.90 L140.40,391.08 L140.82,391.25 L141.24,391.43 L141.66,391.60 L142.07,391.77 L142.49,391.95 L143.89,392.53 L145.29,393.10 L146.69,393.67 L148.09,394.23 L149.50,394.78 L150.90,395.32 L152.30,395.86 L153.70,396.39 L155.10,396.91 L156.50,397.43 L157.90,397.93 L159.30,398.44 L160.70,398.93 L162.10,399.42 L163.51,399.90 L164.91,400.37 L166.31,400.84 L167.71,401.30 L169.11,401.76 L170.51,402.20 L171.91,402.65 L173.31,403.08 L174.71,403.51 L176.11,403.93 L177.52,404.35 L178.92,404.76 L180.32,405.17 L181.72,405.57 L183.12,405.97 L184.52,406.37 L185.92,406.76 L187.32,407.15 L188.72,407.53 L190.12,407.91 L191.53,408.29 L192.93,408.66 L194.33,409.03 L195.73,409.39 L197.13,409.75 L198.53,410.11 L199.93,410.46 L201.33,410.81 L202.73,411.15 L204.14,411.49 L205.54,411.82 L206.94,412.15 L208.34,412.47 L209.74,412.79 L211.14,413.11 L212.54,413.42 L213.94,413.72 L215.34,414.02 L216.74,414.32 L218.15,414.62 L219.55,414.91 L220.95,415.19 L222.35,415.48 L223.75,415.76 L225.15,416.04 L226.55,416.31 L227.95,416.58 L229.35,416.85 L230.75,417.12 L232.16,417.39 L233.56,417.65 L234.96,417.92 L236.36,418.18 L237.76,418.44 L239.16,418.69 L240.56,418.95 L241.96,419.20 L243.36,419.46 L244.77,419.71 L246.17,419.96 L247.57,420.20 L248.97,420.45 L250.37,420.69 L251.77,420.93 L253.17,421.17 L254.57,421.41 L255.97,421.64 L257.37,421.87 L258.78,422.10 L260.18,422.33 L261.58,422.56 L262.98,422.78 L264.38,423.00 L265.78,423.22 L267.18,423.43 L268.58,423.63 L269.98,423.83 L271.38,424.02 L272.79,424.22 L274.19,424.40 L275.59,424.59 L276.99,424.77 L278.39,424.94 L279.79,425.12 L281.19,425.29 L282.59,425.45 L283.99,425.61 L285.39,425.77 L286.80,425.93 L288.20,426.08 L289.60,426.23 L291.00,426.37 L292.40,426.52 L293.80,426.66 L295.20,426.79 L296.60,426.93 L298.00,427.06 L299.41,427.19 L300.81,427.31 L302.21,427.43 L303.61,427.55 L305.01,427.67 L306.41,427.78 L307.81,427.90 L309.21,428.01 L310.61,428.11 L312.01,428.22 L313.42,428.32 L314.82,428.42 L316.22,428.52 L317.62,428.62 L319.02,428.72 L320.42,428.81 L321.82,428.90 L323.22,428.99 L324.62,429.08 L326.02,429.17 L327.43,429.25 L328.83,429.34 L330.23,429.42 L331.63,429.50 L333.03,429.58 L334.43,429.66 L335.83,429.74 L337.23,429.81 L338.63,429.89 L340.03,429.96 L341.44,430.03 L342.84,430.10 L344.24,430.17 L345.64,430.24 L347.04,430.31 L348.44,430.37 L349.84,430.44 L351.24,430.50 L352.64,430.56 L354.05,430.62 L355.45,430.68 L356.85,430.74 L358.25,430.80 L359.65,430.86 L361.05,430.92 L362.45,430.97 L363.85,431.02 L365.25,431.08 L366.65,431.13 L368.06,431.18 L369.46,431.23 L370.86,431.28 L372.26,431.33 L373.66,431.38 L375.06,431.43 L376.46,431.47 L377.86,431.52 L379.26,431.56 L380.66,431.61 L382.07,431.65 L383.47,431.69 L384.87,431.74 L386.27,431.78 L387.67,431.82 L389.07,431.86 L390.47,431.89 L391.87,431.93 L393.27,431.97 L394.67,432.01 L396.08,432.04 L397.48,432.08 L398.88,432.11 L400.28,432.14 L401.68,432.17 L403.08,432.21 L404.48,432.24 L405.88,432.27 L407.28,432.30 L408.69,432.32 L410.09,432.35 L411.49,432.38 L412.89,432.40 L414.29,432.43 L415.69,432.45 L417.09,432.47 L418.49,432.49 L419.89,432.52 L421.29,432.54 L422.70,432.56 L424.10,432.57 L425.50,432.59 L426.90,432.61 L428.30,432.62 L429.70,432.64 L431.10,432.65 L432.50,432.67 L433.90,432.68 L435.30,432.69 L436.71,432.70 L438.11,432.71 L439.51,432.72 L440.91,432.73 L442.31,432.74 L443.71,432.75 L445.11,432.76 L446.51,432.77 L447.91,432.77 L449.32,432.78 L450.72,432.79 L452.12,432.79 L453.52,432.80 L454.92,432.80 L456.32,432.81 L457.72,432.81 L459.12,432.81 L460.52,432.82 L461.92,432.82 L463.33,432.82 L464.73,432.83 L466.13,432.83 L467.53,432.83 L468.93,432.84 L470.33,432.84 L471.73,432.84 L473.13,432.84 L474.53,432.84 L475.93,432.85 L477.34,432.85 L478.74,432.85 L480.14,432.85 L481.54,432.85 L482.94,432.85 L484.34,432.85 L485.74,432.86 L487.14,432.86 L488.54,432.86 L489.94,432.86 L491.35,432.86 L492.75,432.86 L494.15,432.86 L495.55,432.86 L496.95,432.86 L498.35,432.86 L499.75,432.86 L501.15,432.87 L502.55,432.87 L503.96,432.87 L505.36,432.87 L506.76,432.87 L508.16,432.87 L509.56,432.87 L510.96,432.87 L512.36,432.87 L513.76,432.87 L515.16,432.87 L516.56,432.87 L517.97,432.87 L519.37,432.87 L520.77,432.87 L522.17,432.87 L523.57,432.87 L524.97,432.87 L526.37,432.87 L527.77,432.87 L529.17,432.87 L530.57,432.87 L531.98,432.88 L533.38,432.88 L534.78,432.88 L536.18,432.88 L537.58,432.88 L538.98,432.88 L540.38,432.88 L541.78,432.88 L543.18,432.88 L544.58,432.88 L545.99,432.88 L547.39,432.88 L548.79,432.88 L550.19,432.88 L551.59,432.88 L552.99,432.88 L554.39,432.88 L555.79,432.88 L557.19,432.88 L558.60,432.88 L560.00,432.88 L561.40,432.88 L562.80,432.88 L564.20,432.88 L565.60,432.88 L567.00,432.88 L568.40,432.88 L569.80,432.88 L571.20,432.88 L572.61,432.88 L574.01,432.88 L575.41,432.88 L576.81,432.88 L578.21,432.88 L579.61,432.88 L581.01,432.88 L582.41,432.88 L583.81,432.88 L585.21,432.88 L586.62,432.88 L588.02,432.88 L589.42,432.88 L590.82,432.88 L592.22,432.88 L593.62,432.88 L595.02,432.88 L596.42,432.88 L597.82,432.88 L599.22,432.88 L600.63,432.88 L602.03,432.88 L603.43,432.88 L604.83,432.88 L606.23,432.88 L607.63,432.88 L609.03,432.88 L610.43,432.88 L611.83,432.88 L613.24,432.88 L614.64,432.88 L616.04,432.88 L617.44,432.88 L618.84,432.88 L620.24,432.88 L621.64,432.88 L623.04,432.88 L624.44,432.88 L625.84,432.88 L627.25,432.88 L628.65,432.88 L630.05,432.88 L631.45,432.88 L632.85,432.88 L634.25,432.88 L635.65,432.88 L637.05,432.88 L638.45,432.88 L639.85,432.88 L641.26,432.88 L642.66,432.88 L644.06,432.88 L645.46,432.88 L646.86,432.88 L648.26,432.88 L649.66,432.88 L651.06,432.88 L652.46,432.88 L653.87,432.88 L655.27,432.88 L656.67,432.88 L658.07,432.88 L659.47,432.88 L660.87,432.88 L662.27,432.88 L663.67,432.88 L665.07,432.88 L666.47,432.88 L667.88,432.88 L669.28,432.88 L670.68,432.88 L672.08,432.88 L673.48,432.88 L674.88,432.88 L676.28,432.88 L677.68,432.88 L679.08,432.88 L680.48,432.88 L681.89,432.88 L683.29,432.88 L684.69,432.88 L686.09,432.88 L687.49,432.88 L688.89,432.88 L690.29,432.88 L691.69,432.88 L693.09,432.88 L694.49,432.88 L695.90,432.88 L697.30,432.88 L698.70,432.88 L700.10,432.88 L701.50,432.88" fill="none" stroke="#00aa00" stroke-width="4.1" stroke-linejoin="round" stroke-linecap="square"/>
<g stroke="#000000" stroke-opacity="0.6" stroke-width="1" fill="none">
<path d="M67.5,33.2 V433.5 H714"/>
<line x1="80.00" y1="433.0" x2="80.00" y2="427.20"/>
<line x1="111.08" y1="433.0" x2="111.08" y2="429.60"/>
<line x1="142.15" y1="433.0" x2="142.15" y2="429.60"/>
<line x1="173.23" y1="433.0" x2="173.23" y2="429.60"/>
<line x1="204.30" y1="433.0" x2="204.30" y2="427.20"/>
<line x1="235.38" y1="433.0" x2="235.38" y2="429.60"/>
<line x1="266.45" y1="433.0" x2="266.45" y2="429.60"/>
<line x1="297.53" y1="433.0" x2="297.53" y2="429.60"/>
<line x1="328.60" y1="433.0" x2="328.60" y2="427.20"/>
<line x1="359.68" y1="433.0" x2="359.68" y2="429.60"/>
<line x1="390.75" y1="433.0" x2="390.75" y2="429.60"/>
<line x1="421.83" y1="433.0" x2="421.83" y2="429.60"/>
<line x1="452.90" y1="433.0" x2="452.90" y2="427.20"/>
<line x1="483.98" y1="433.0" x2="483.98" y2="429.60"/>
<line x1="515.05" y1="433.0" x2="515.05" y2="429.60"/>
<line x1="546.12" y1="433.0" x2="546.12" y2="429.60"/>
<line x1="577.20" y1="433.0" x2="577.20" y2="427.20"/>
<line x1="608.28" y1="433.0" x2="608.28" y2="429.60"/>
<line x1="639.35" y1="433.0" x2="639.35" y2="429.60"/>
<line x1="670.43" y1="433.0" x2="670.43" y2="429.60"/>
<line x1="701.50" y1="433.0" x2="701.50" y2="427.20"/>
<line x1="68.0" y1="415.29" x2="71.50" y2="415.29"/>
<line x1="68.0" y1="397.13" x2="71.50" y2="397.13"/>
<line x1="68.0" y1="378.97" x2="71.50" y2="378.97"/>
<line x1="68.0" y1="360.81" x2="73.90" y2="360.81"/>
<line x1="68.0" y1="342.65" x2="71.50" y2="342.65"/>
<line x1="68.0" y1="324.49" x2="71.50" y2="324.49"/>
<line x1="68.0" y1="306.33" x2="71.50" y2="306.33"/>
<line x1="68.0" y1="288.17" x2="73.90" y2="288.17"/>
<line x1="68.0" y1="270.01" x2="71.50" y2="270.01"/>
<line x1="68.0" y1="251.85" x2="71.50" y2="251.85"/>
<line x1="68.0" y1="233.69" x2="71.50" y2="233.69"/>
<line x1="68.0" y1="215.53" x2="73.90" y2="215.53"/>
<line x1="68.0" y1="197.37" x2="71.50" y2="197.37"/>
<line x1="68.0" y1="179.21" x2="71.50" y2="179.21"/>
<line x1="68.0" y1="161.05" x2="71.50" y2="161.05"/>
<line x1="68.0" y1="142.89" x2="73.90" y2="142.89"/>
<line x1="68.0" y1="124.73" x2="71.50" y2="124.73"/>
<line x1="68.0" y1="106.57" x2="71.50" y2="106.57"/>
<line x1="68.0" y1="88.41" x2="71.50" y2="88.41"/>
<line x1="68.0" y1="70.25" x2="73.90" y2="70.25"/>
<line x1="68.0" y1="52.09" x2="71.50" y2="52.09"/>
<line x1="68.0" y1="33.93" x2="71.50" y2="33.93"/>
</g>
<text x="80.30" y="458.6" font-size="20.4" text-anchor="middle">0.0</text>
<text x="204.60" y="458.6" font-size="20.4" text-anchor="middle">0.2</text>
<text x="328.90" y="458.6" font-size="20.4" text-anchor="middle">0.4</text>
<text x="453.20" y="458.6" font-size="20.4" text-anchor="middle">0.6</text>
<text x="577.50" y="458.6" font-size="20.4" text-anchor="middle">0.8</text>
<text x="701.80" y="458.6" font-size="20.4" text-anchor="middle">1.0</text>
<text x="62.6" y="440.85" font-size="20.4" text-anchor="end">0.0</text>
<text x="62.6" y="368.21" font-size="20.4" text-anchor="end">0.2</text>
<text x="62.6" y="295.57" font-size="20.4" text-anchor="end">0.4</text>
<text x="62.6" y="222.93" font-size="20.4" text-anchor="end">0.6</text>
<text x="62.6" y="150.29" font-size="20.4" text-anchor="end">0.8</text>
<text x="62.6" y="77.65" font-size="20.4" text-anchor="end">1.0</text>
<text x="89.9" y="27.8" font-size="28.7" textLength="169.0" lengthAdjust="spacing">Decomposition</text>
<text x="269.6" y="27.8" font-size="28.7" textLength="123.6" lengthAdjust="spacing">Parameters</text>
<text x="407.7" y="27.8" font-size="28.7" textLength="57.8" lengthAdjust="spacing">Time</text>
<text x="475.2" y="27.8" font-size="28.7" textLength="108.8" lengthAdjust="spacing">Evolution</text>
<text x="592.6" y="27.8" font-size="28.7" textLength="31.8" lengthAdjust="spacing">for</text>
<text x="637.9" y="27.8" font-size="28.7" textLength="52.3" lengthAdjust="spacing">N=8</text>
<text transform="translate(21.1,317.6) rotate(-90)" font-style="italic" font-size="25.6" textLength="104.4" lengthAdjust="spacing">Parameter</text>
<text transform="translate(21.1,204.6) rotate(-90)" font-style="italic" font-size="25.6" textLength="54.6" lengthAdjust="spacing">Value</text>
<text x="348.7" y="494.3" font-size="25.2" font-style="italic" textLength="48" lengthAdjust="spacing">Time</text>
<text x="400.8" y="494.3" font-size="25.2">(</text>
<text x="409.0" y="494.3" font-size="25.2" font-style="italic" textLength="10.4" lengthAdjust="spacingAndGlyphs">τ</text>
<text x="424.8" y="494.3" font-size="25.2">)</text>
<line x1="744.5" y1="76.00" x2="781" y2="76.00" stroke="#0000ff" stroke-width="4.2" stroke-linecap="square"/>
<text x="795.2" y="83.50" font-size="26.5" font-weight="bold">x<tspan font-size="19" dx="1.6" dy="4.5">1</tspan></text>
<line x1="744.5" y1="119.72" x2="781" y2="119.72" stroke="#0000ff" stroke-width="4.2" stroke-linecap="square" stroke-dasharray="8 8"/>
<text x="795.2" y="127.22" font-size="26.5" font-weight="bold">y<tspan font-size="19" dx="1.6" dy="4.5">1</tspan></text>
<line x1="744.5" y1="163.44" x2="781" y2="163.44" stroke="#800080" stroke-width="4.2" stroke-linecap="square"/>
<text x="795.2" y="170.94" font-size="26.5" font-weight="bold">x<tspan font-size="19" dx="1.6" dy="4.5">2</tspan></text>
<line x1="744.5" y1="207.16" x2="781" y2="207.16" stroke="#800080" stroke-width="4.2" stroke-linecap="square" stroke-dasharray="8 8"/>
<text x="795.2" y="214.66" font-size="26.5" font-weight="bold">y<tspan font-size="19" dx="1.6" dy="4.5">2</tspan></text>
<line x1="744.5" y1="250.88" x2="781" y2="250.88" stroke="#996633" stroke-width="4.2" stroke-linecap="square"/>
<text x="795.2" y="258.38" font-size="26.5" font-weight="bold">x<tspan font-size="19" dx="1.6" dy="4.5">3</tspan></text>
<line x1="744.5" y1="294.60" x2="781" y2="294.60" stroke="#996633" stroke-width="4.2" stroke-linecap="square" stroke-dasharray="8 8"/>
<text x="795.2" y="302.10" font-size="26.5" font-weight="bold">y<tspan font-size="19" dx="1.6" dy="4.5">3</tspan></text>
<line x1="744.5" y1="338.32" x2="781" y2="338.32" stroke="#ff0000" stroke-width="4.2" stroke-linecap="square"/>
<text x="795.2" y="345.82" font-size="26.5" font-weight="bold">x<tspan font-size="19" dx="1.6" dy="4.5">4</tspan></text>
<line x1="744.5" y1="382.04" x2="781" y2="382.04" stroke="#ff0000" stroke-width="4.2" stroke-linecap="square" stroke-dasharray="8 8"/>
<text x="795.2" y="389.54" font-size="26.5" font-weight="bold">y<tspan font-size="19" dx="1.6" dy="4.5">4</tspan></text>
<line x1="744.5" y1="425.76" x2="781" y2="425.76" stroke="#00aa00" stroke-width="4.2" stroke-linecap="square"/>
<text x="795.2" y="433.26" font-size="26.5" font-weight="bold">x<tspan font-size="19" dx="1.6" dy="4.5">5</tspan></text>
</svg></body></html>
